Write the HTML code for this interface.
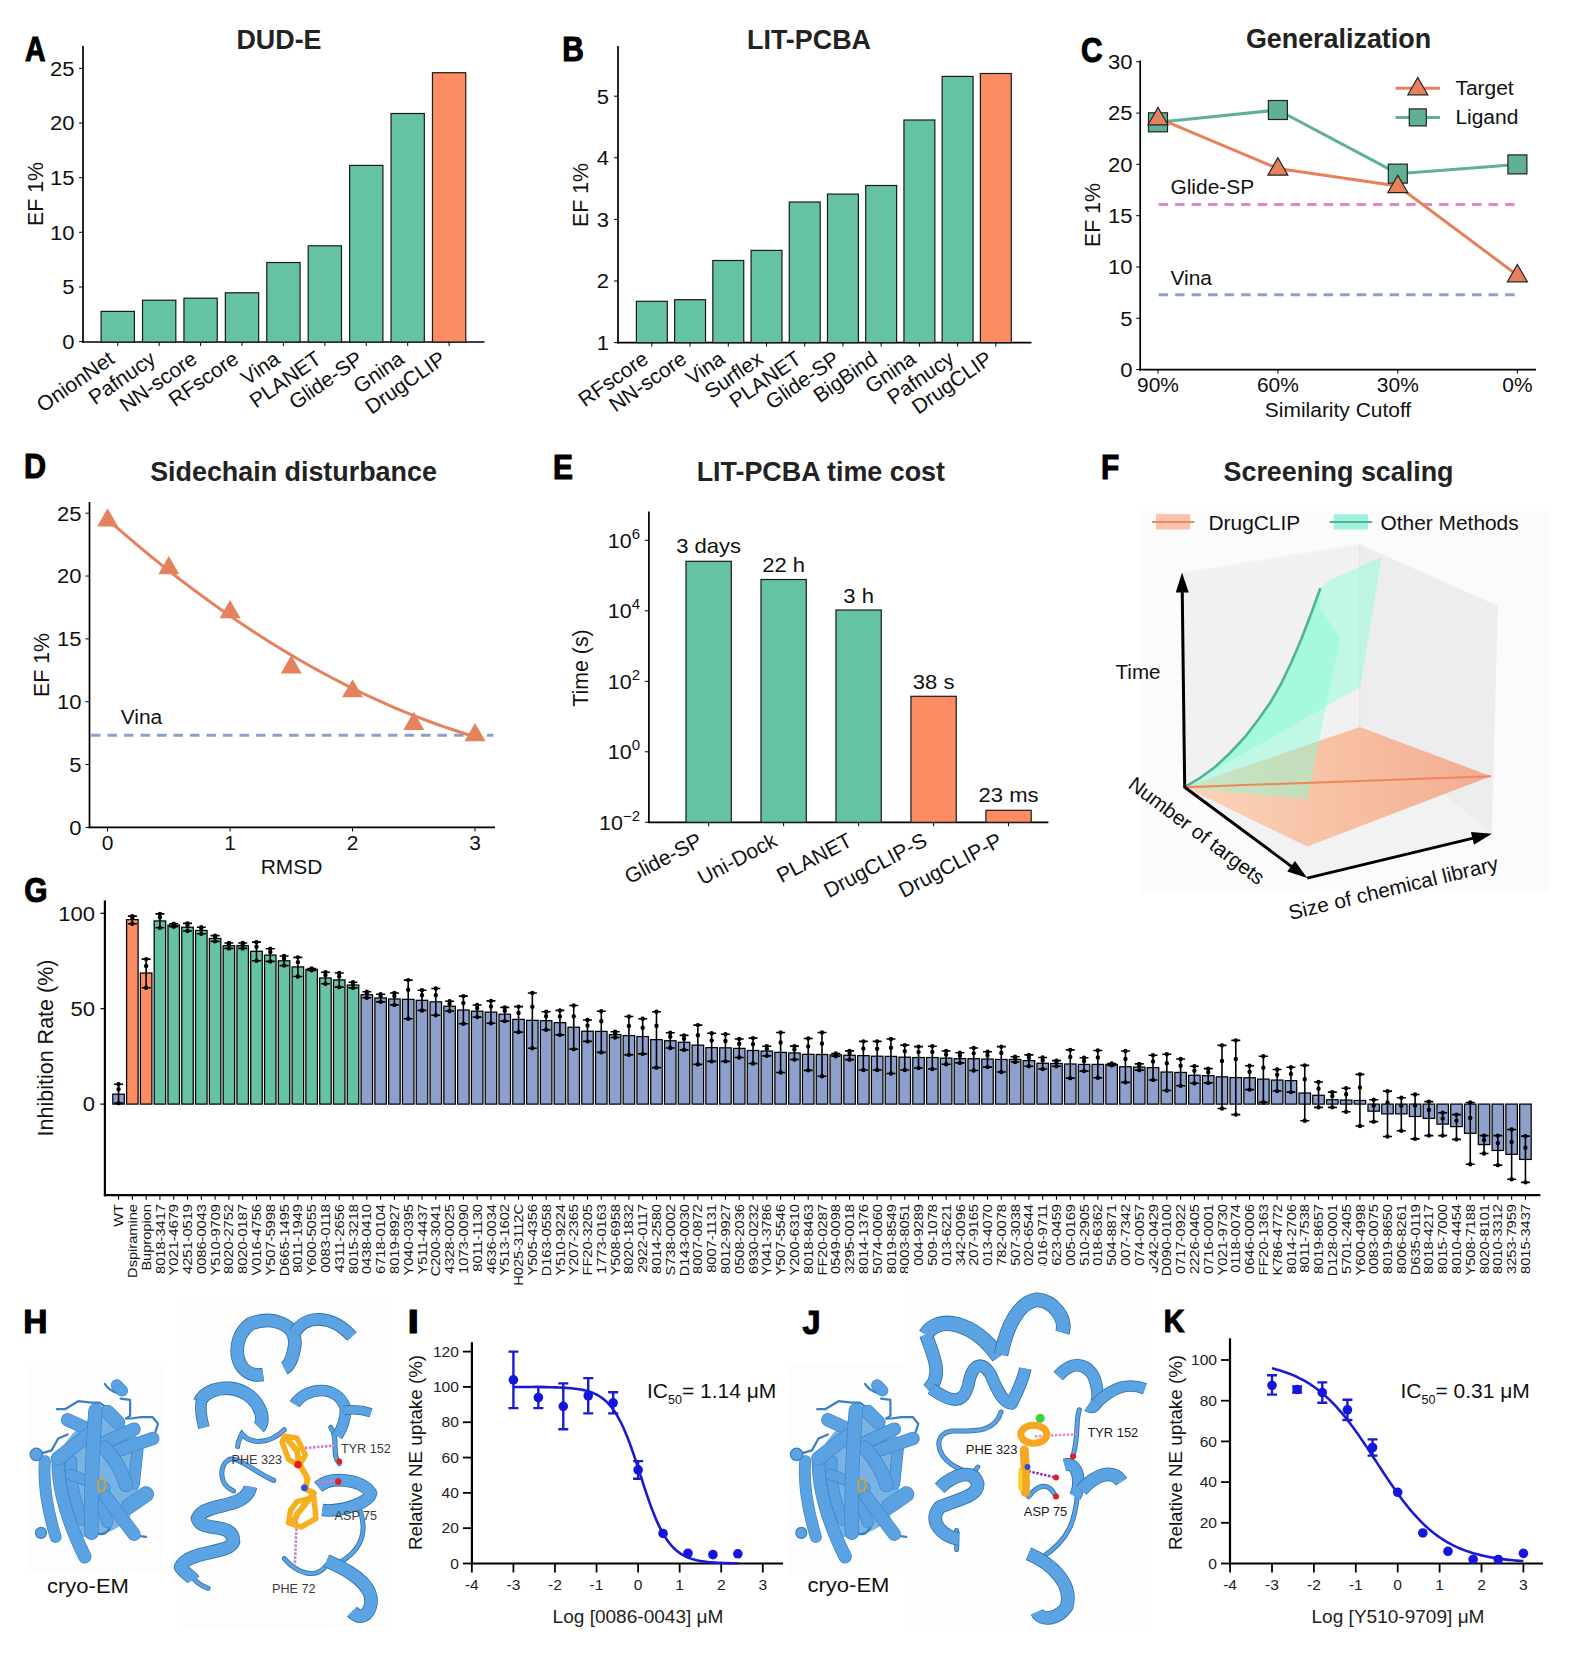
<!DOCTYPE html>
<html><head><meta charset="utf-8"><style>
html,body{margin:0;padding:0;background:#fff;}
svg{display:block;font-family:"Liberation Sans",sans-serif;}
</style></head><body>
<svg width="1572" height="1654" viewBox="0 0 1572 1654">
<rect width="1572" height="1654" fill="#fff"/>
<text transform="translate(25,61.19) scale(0.8,1)" x="0" y="0" font-size="35.6" font-weight="bold" fill="#000" stroke="#000" stroke-width="1.1" stroke-linejoin="miter">A</text>
<text transform="translate(279,49) scale(0.96,1)" x="0" y="0" font-size="28" text-anchor="middle" font-weight="bold" fill="#222">DUD-E</text>
<line x1="83" y1="46" x2="83" y2="342.8" stroke="#000" stroke-width="1.7" />
<line x1="82.2" y1="342" x2="484.5" y2="342" stroke="#000" stroke-width="1.7" />
<line x1="79" y1="341.6" x2="83" y2="341.6" stroke="#000" stroke-width="1" />
<text transform="translate(74.5,348.9) scale(1.075,1)" x="0" y="0" font-size="20.5" text-anchor="end" font-weight="normal" fill="#111" >0</text>
<line x1="79" y1="286.95" x2="83" y2="286.95" stroke="#000" stroke-width="1" />
<text transform="translate(74.5,294.25) scale(1.075,1)" x="0" y="0" font-size="20.5" text-anchor="end" font-weight="normal" fill="#111" >5</text>
<line x1="79" y1="232.3" x2="83" y2="232.3" stroke="#000" stroke-width="1" />
<text transform="translate(74.5,239.6) scale(1.075,1)" x="0" y="0" font-size="20.5" text-anchor="end" font-weight="normal" fill="#111" >10</text>
<line x1="79" y1="177.65" x2="83" y2="177.65" stroke="#000" stroke-width="1" />
<text transform="translate(74.5,184.95) scale(1.075,1)" x="0" y="0" font-size="20.5" text-anchor="end" font-weight="normal" fill="#111" >15</text>
<line x1="79" y1="123" x2="83" y2="123" stroke="#000" stroke-width="1" />
<text transform="translate(74.5,130.3) scale(1.075,1)" x="0" y="0" font-size="20.5" text-anchor="end" font-weight="normal" fill="#111" >20</text>
<line x1="79" y1="68.35" x2="83" y2="68.35" stroke="#000" stroke-width="1" />
<text transform="translate(74.5,75.65) scale(1.075,1)" x="0" y="0" font-size="20.5" text-anchor="end" font-weight="normal" fill="#111" >25</text>
<text transform="translate(35.5,194) rotate(-90)" x="0" y="0" font-size="21.3" text-anchor="middle" dominant-baseline="central" fill="#111">EF 1%</text>
<rect x="101.1" y="311.4" width="33.3" height="30.6" fill="#66c2a5" stroke="#1a1a1a" stroke-width="1.2"/>
<line x1="117.75" y1="342" x2="117.75" y2="346" stroke="#000" stroke-width="1" />
<text transform="translate(115.75,362) rotate(-35)" x="0" y="0" font-size="21" text-anchor="end" fill="#111">OnionNet</text>
<rect x="142.52" y="300.2" width="33.3" height="41.8" fill="#66c2a5" stroke="#1a1a1a" stroke-width="1.2"/>
<line x1="159.17" y1="342" x2="159.17" y2="346" stroke="#000" stroke-width="1" />
<text transform="translate(157.17,362) rotate(-35)" x="0" y="0" font-size="21" text-anchor="end" fill="#111">Pafnucy</text>
<rect x="183.94" y="298.2" width="33.3" height="43.8" fill="#66c2a5" stroke="#1a1a1a" stroke-width="1.2"/>
<line x1="200.59" y1="342" x2="200.59" y2="346" stroke="#000" stroke-width="1" />
<text transform="translate(198.59,362) rotate(-35)" x="0" y="0" font-size="21" text-anchor="end" fill="#111">NN-score</text>
<rect x="225.36" y="292.8" width="33.3" height="49.2" fill="#66c2a5" stroke="#1a1a1a" stroke-width="1.2"/>
<line x1="242.01" y1="342" x2="242.01" y2="346" stroke="#000" stroke-width="1" />
<text transform="translate(240.01,362) rotate(-35)" x="0" y="0" font-size="21" text-anchor="end" fill="#111">RFscore</text>
<rect x="266.78" y="262.5" width="33.3" height="79.5" fill="#66c2a5" stroke="#1a1a1a" stroke-width="1.2"/>
<line x1="283.43" y1="342" x2="283.43" y2="346" stroke="#000" stroke-width="1" />
<text transform="translate(281.43,362) rotate(-35)" x="0" y="0" font-size="21" text-anchor="end" fill="#111">Vina</text>
<rect x="308.2" y="245.8" width="33.3" height="96.2" fill="#66c2a5" stroke="#1a1a1a" stroke-width="1.2"/>
<line x1="324.85" y1="342" x2="324.85" y2="346" stroke="#000" stroke-width="1" />
<text transform="translate(322.85,362) rotate(-35)" x="0" y="0" font-size="21" text-anchor="end" fill="#111">PLANET</text>
<rect x="349.62" y="165.4" width="33.3" height="176.6" fill="#66c2a5" stroke="#1a1a1a" stroke-width="1.2"/>
<line x1="366.27" y1="342" x2="366.27" y2="346" stroke="#000" stroke-width="1" />
<text transform="translate(364.27,362) rotate(-35)" x="0" y="0" font-size="21" text-anchor="end" fill="#111">Glide-SP</text>
<rect x="391.04" y="113.5" width="33.3" height="228.5" fill="#66c2a5" stroke="#1a1a1a" stroke-width="1.2"/>
<line x1="407.69" y1="342" x2="407.69" y2="346" stroke="#000" stroke-width="1" />
<text transform="translate(405.69,362) rotate(-35)" x="0" y="0" font-size="21" text-anchor="end" fill="#111">Gnina</text>
<rect x="432.46" y="72.7" width="33.3" height="269.3" fill="#fc8d62" stroke="#1a1a1a" stroke-width="1.2"/>
<line x1="449.11" y1="342" x2="449.11" y2="346" stroke="#000" stroke-width="1" />
<text transform="translate(447.11,362) rotate(-35)" x="0" y="0" font-size="21" text-anchor="end" fill="#111">DrugCLIP</text>
<text transform="translate(562.3,60.79) scale(0.84,1)" x="0" y="0" font-size="35.6" font-weight="bold" fill="#000" stroke="#000" stroke-width="1.1" stroke-linejoin="miter">B</text>
<text transform="translate(809,49.3) scale(0.96,1)" x="0" y="0" font-size="28" text-anchor="middle" font-weight="bold" fill="#222">LIT-PCBA</text>
<line x1="618" y1="46" x2="618" y2="343.4" stroke="#000" stroke-width="1.7" />
<line x1="617.2" y1="342.6" x2="1031.4" y2="342.6" stroke="#000" stroke-width="1.7" />
<line x1="614" y1="342.6" x2="618" y2="342.6" stroke="#000" stroke-width="1" />
<text transform="translate(609,349.9) scale(1.075,1)" x="0" y="0" font-size="20.5" text-anchor="end" font-weight="normal" fill="#111" >1</text>
<line x1="614" y1="281" x2="618" y2="281" stroke="#000" stroke-width="1" />
<text transform="translate(609,288.3) scale(1.075,1)" x="0" y="0" font-size="20.5" text-anchor="end" font-weight="normal" fill="#111" >2</text>
<line x1="614" y1="219.4" x2="618" y2="219.4" stroke="#000" stroke-width="1" />
<text transform="translate(609,226.7) scale(1.075,1)" x="0" y="0" font-size="20.5" text-anchor="end" font-weight="normal" fill="#111" >3</text>
<line x1="614" y1="157.8" x2="618" y2="157.8" stroke="#000" stroke-width="1" />
<text transform="translate(609,165.1) scale(1.075,1)" x="0" y="0" font-size="20.5" text-anchor="end" font-weight="normal" fill="#111" >4</text>
<line x1="614" y1="96.2" x2="618" y2="96.2" stroke="#000" stroke-width="1" />
<text transform="translate(609,103.5) scale(1.075,1)" x="0" y="0" font-size="20.5" text-anchor="end" font-weight="normal" fill="#111" >5</text>
<text transform="translate(581,195) rotate(-90)" x="0" y="0" font-size="21.3" text-anchor="middle" dominant-baseline="central" fill="#111">EF 1%</text>
<rect x="636.4" y="301.3" width="30.9" height="41.3" fill="#66c2a5" stroke="#1a1a1a" stroke-width="1.2"/>
<line x1="651.85" y1="342.6" x2="651.85" y2="346.6" stroke="#000" stroke-width="1" />
<text transform="translate(649.85,362) rotate(-35)" x="0" y="0" font-size="21" text-anchor="end" fill="#111">RFscore</text>
<rect x="674.62" y="299.7" width="30.9" height="42.9" fill="#66c2a5" stroke="#1a1a1a" stroke-width="1.2"/>
<line x1="690.07" y1="342.6" x2="690.07" y2="346.6" stroke="#000" stroke-width="1" />
<text transform="translate(688.07,362) rotate(-35)" x="0" y="0" font-size="21" text-anchor="end" fill="#111">NN-score</text>
<rect x="712.84" y="260.5" width="30.9" height="82.1" fill="#66c2a5" stroke="#1a1a1a" stroke-width="1.2"/>
<line x1="728.29" y1="342.6" x2="728.29" y2="346.6" stroke="#000" stroke-width="1" />
<text transform="translate(726.29,362) rotate(-35)" x="0" y="0" font-size="21" text-anchor="end" fill="#111">Vina</text>
<rect x="751.06" y="250.4" width="30.9" height="92.2" fill="#66c2a5" stroke="#1a1a1a" stroke-width="1.2"/>
<line x1="766.51" y1="342.6" x2="766.51" y2="346.6" stroke="#000" stroke-width="1" />
<text transform="translate(764.51,362) rotate(-35)" x="0" y="0" font-size="21" text-anchor="end" fill="#111">Surflex</text>
<rect x="789.28" y="202" width="30.9" height="140.6" fill="#66c2a5" stroke="#1a1a1a" stroke-width="1.2"/>
<line x1="804.73" y1="342.6" x2="804.73" y2="346.6" stroke="#000" stroke-width="1" />
<text transform="translate(802.73,362) rotate(-35)" x="0" y="0" font-size="21" text-anchor="end" fill="#111">PLANET</text>
<rect x="827.5" y="194.1" width="30.9" height="148.5" fill="#66c2a5" stroke="#1a1a1a" stroke-width="1.2"/>
<line x1="842.95" y1="342.6" x2="842.95" y2="346.6" stroke="#000" stroke-width="1" />
<text transform="translate(840.95,362) rotate(-35)" x="0" y="0" font-size="21" text-anchor="end" fill="#111">Glide-SP</text>
<rect x="865.72" y="185.5" width="30.9" height="157.1" fill="#66c2a5" stroke="#1a1a1a" stroke-width="1.2"/>
<line x1="881.17" y1="342.6" x2="881.17" y2="346.6" stroke="#000" stroke-width="1" />
<text transform="translate(879.17,362) rotate(-35)" x="0" y="0" font-size="21" text-anchor="end" fill="#111">BigBind</text>
<rect x="903.94" y="120" width="30.9" height="222.6" fill="#66c2a5" stroke="#1a1a1a" stroke-width="1.2"/>
<line x1="919.39" y1="342.6" x2="919.39" y2="346.6" stroke="#000" stroke-width="1" />
<text transform="translate(917.39,362) rotate(-35)" x="0" y="0" font-size="21" text-anchor="end" fill="#111">Gnina</text>
<rect x="942.16" y="76.4" width="30.9" height="266.2" fill="#66c2a5" stroke="#1a1a1a" stroke-width="1.2"/>
<line x1="957.61" y1="342.6" x2="957.61" y2="346.6" stroke="#000" stroke-width="1" />
<text transform="translate(955.61,362) rotate(-35)" x="0" y="0" font-size="21" text-anchor="end" fill="#111">Pafnucy</text>
<rect x="980.38" y="73.5" width="30.9" height="269.1" fill="#fc8d62" stroke="#1a1a1a" stroke-width="1.2"/>
<line x1="995.83" y1="342.6" x2="995.83" y2="346.6" stroke="#000" stroke-width="1" />
<text transform="translate(993.83,362) rotate(-35)" x="0" y="0" font-size="21" text-anchor="end" fill="#111">DrugCLIP</text>
<text transform="translate(1081,61.59) scale(0.84,1)" x="0" y="0" font-size="35.6" font-weight="bold" fill="#000" stroke="#000" stroke-width="1.1" stroke-linejoin="miter">C</text>
<text transform="translate(1338.5,48.4) scale(0.96,1)" x="0" y="0" font-size="28" text-anchor="middle" font-weight="bold" fill="#222">Generalization</text>
<line x1="1140.2" y1="60.5" x2="1140.2" y2="370.4" stroke="#000" stroke-width="1.7" />
<line x1="1139.4" y1="369.6" x2="1536" y2="369.6" stroke="#000" stroke-width="1.7" />
<line x1="1136.2" y1="369.6" x2="1140.2" y2="369.6" stroke="#000" stroke-width="1" />
<text transform="translate(1132.5,376.9) scale(1.075,1)" x="0" y="0" font-size="20.5" text-anchor="end" font-weight="normal" fill="#111" >0</text>
<line x1="1136.2" y1="318.3" x2="1140.2" y2="318.3" stroke="#000" stroke-width="1" />
<text transform="translate(1132.5,325.6) scale(1.075,1)" x="0" y="0" font-size="20.5" text-anchor="end" font-weight="normal" fill="#111" >5</text>
<line x1="1136.2" y1="267" x2="1140.2" y2="267" stroke="#000" stroke-width="1" />
<text transform="translate(1132.5,274.3) scale(1.075,1)" x="0" y="0" font-size="20.5" text-anchor="end" font-weight="normal" fill="#111" >10</text>
<line x1="1136.2" y1="215.7" x2="1140.2" y2="215.7" stroke="#000" stroke-width="1" />
<text transform="translate(1132.5,223) scale(1.075,1)" x="0" y="0" font-size="20.5" text-anchor="end" font-weight="normal" fill="#111" >15</text>
<line x1="1136.2" y1="164.4" x2="1140.2" y2="164.4" stroke="#000" stroke-width="1" />
<text transform="translate(1132.5,171.7) scale(1.075,1)" x="0" y="0" font-size="20.5" text-anchor="end" font-weight="normal" fill="#111" >20</text>
<line x1="1136.2" y1="113.1" x2="1140.2" y2="113.1" stroke="#000" stroke-width="1" />
<text transform="translate(1132.5,120.4) scale(1.075,1)" x="0" y="0" font-size="20.5" text-anchor="end" font-weight="normal" fill="#111" >25</text>
<line x1="1136.2" y1="61.8" x2="1140.2" y2="61.8" stroke="#000" stroke-width="1" />
<text transform="translate(1132.5,69.1) scale(1.075,1)" x="0" y="0" font-size="20.5" text-anchor="end" font-weight="normal" fill="#111" >30</text>
<text transform="translate(1093.4,215) rotate(-90)" x="0" y="0" font-size="21.3" text-anchor="middle" dominant-baseline="central" fill="#111">EF 1%</text>
<line x1="1158" y1="369.6" x2="1158" y2="373.6" stroke="#000" stroke-width="1" />
<text transform="translate(1158,392) scale(1.075,1)" x="0" y="0" font-size="19.5" text-anchor="middle" font-weight="normal" fill="#111" >90%</text>
<line x1="1277.9" y1="369.6" x2="1277.9" y2="373.6" stroke="#000" stroke-width="1" />
<text transform="translate(1277.9,392) scale(1.075,1)" x="0" y="0" font-size="19.5" text-anchor="middle" font-weight="normal" fill="#111" >60%</text>
<line x1="1397.8" y1="369.6" x2="1397.8" y2="373.6" stroke="#000" stroke-width="1" />
<text transform="translate(1397.8,392) scale(1.075,1)" x="0" y="0" font-size="19.5" text-anchor="middle" font-weight="normal" fill="#111" >30%</text>
<line x1="1517.4" y1="369.6" x2="1517.4" y2="373.6" stroke="#000" stroke-width="1" />
<text transform="translate(1517.4,392) scale(1.075,1)" x="0" y="0" font-size="19.5" text-anchor="middle" font-weight="normal" fill="#111" >0%</text>
<text transform="translate(1338,416.5) scale(1.075,1)" x="0" y="0" font-size="19.5" text-anchor="middle" font-weight="normal" fill="#111" >Similarity Cutoff</text>
<line x1="1158.6" y1="204.41" x2="1517" y2="204.41" stroke="#da8cc2" stroke-width="3" stroke-dasharray="9.5,7"/>
<line x1="1158.6" y1="294.7" x2="1517" y2="294.7" stroke="#8da0cb" stroke-width="3" stroke-dasharray="9.5,7"/>
<text transform="translate(1170.4,194) scale(1.075,1)" x="0" y="0" font-size="19.5" text-anchor="start" font-weight="normal" fill="#111" >Glide-SP</text>
<text transform="translate(1170.4,285.4) scale(1.075,1)" x="0" y="0" font-size="19.5" text-anchor="start" font-weight="normal" fill="#111" >Vina</text>
<polyline points="1158,122.33 1277.9,110.02 1397.8,173.63 1517.4,164.4" fill="none" stroke="#5fb096" stroke-width="3"/>
<polyline points="1158,118.23 1277.9,168.5 1397.8,185.95 1517.4,275.21" fill="none" stroke="#e5825d" stroke-width="3"/>
<rect x="1148.5" y="112.83" width="19" height="19" fill="#5fb096" stroke="#222" stroke-width="1.2"/>
<rect x="1268.4" y="100.52" width="19" height="19" fill="#5fb096" stroke="#222" stroke-width="1.2"/>
<rect x="1388.3" y="164.13" width="19" height="19" fill="#5fb096" stroke="#222" stroke-width="1.2"/>
<rect x="1507.9" y="154.9" width="19" height="19" fill="#5fb096" stroke="#222" stroke-width="1.2"/>
<polygon points="1158,107.49 1168,124.81 1148,124.81" fill="#e5825d" stroke="#222" stroke-width="1.2" stroke-linejoin="miter"/>
<polygon points="1277.9,157.77 1287.9,175.09 1267.9,175.09" fill="#e5825d" stroke="#222" stroke-width="1.2" stroke-linejoin="miter"/>
<polygon points="1397.8,175.21 1407.8,192.53 1387.8,192.53" fill="#e5825d" stroke="#222" stroke-width="1.2" stroke-linejoin="miter"/>
<polygon points="1517.4,264.47 1527.4,281.79 1507.4,281.79" fill="#e5825d" stroke="#222" stroke-width="1.2" stroke-linejoin="miter"/>
<line x1="1395.6" y1="88.2" x2="1440" y2="88.2" stroke="#e5825d" stroke-width="3" />
<polygon points="1417.8,77.46 1427.8,94.78 1407.8,94.78" fill="#e5825d" stroke="#222" stroke-width="1.2" stroke-linejoin="miter"/>
<line x1="1395.6" y1="117.4" x2="1440" y2="117.4" stroke="#5fb096" stroke-width="3" />
<rect x="1409.3" y="108.9" width="17" height="17" fill="#5fb096" stroke="#222" stroke-width="1.2"/>
<text transform="translate(1455.4,95.2) scale(1.075,1)" x="0" y="0" font-size="19.5" text-anchor="start" font-weight="normal" fill="#111" >Target</text>
<text transform="translate(1455.4,124.4) scale(1.075,1)" x="0" y="0" font-size="19.5" text-anchor="start" font-weight="normal" fill="#111" >Ligand</text>
<text transform="translate(24,477.99) scale(0.86,1)" x="0" y="0" font-size="35.6" font-weight="bold" fill="#000" stroke="#000" stroke-width="1.1" stroke-linejoin="miter">D</text>
<text transform="translate(293.5,480.7) scale(0.96,1)" x="0" y="0" font-size="28" text-anchor="middle" font-weight="bold" fill="#222">Sidechain disturbance</text>
<line x1="89.5" y1="502" x2="89.5" y2="828.2" stroke="#000" stroke-width="1.7" />
<line x1="88.7" y1="827.4" x2="495" y2="827.4" stroke="#000" stroke-width="1.7" />
<line x1="85.5" y1="827.4" x2="89.5" y2="827.4" stroke="#000" stroke-width="1" />
<text transform="translate(81.5,834.7) scale(1.075,1)" x="0" y="0" font-size="20.5" text-anchor="end" font-weight="normal" fill="#111" >0</text>
<line x1="85.5" y1="764.56" x2="89.5" y2="764.56" stroke="#000" stroke-width="1" />
<text transform="translate(81.5,771.86) scale(1.075,1)" x="0" y="0" font-size="20.5" text-anchor="end" font-weight="normal" fill="#111" >5</text>
<line x1="85.5" y1="701.72" x2="89.5" y2="701.72" stroke="#000" stroke-width="1" />
<text transform="translate(81.5,709.02) scale(1.075,1)" x="0" y="0" font-size="20.5" text-anchor="end" font-weight="normal" fill="#111" >10</text>
<line x1="85.5" y1="638.88" x2="89.5" y2="638.88" stroke="#000" stroke-width="1" />
<text transform="translate(81.5,646.18) scale(1.075,1)" x="0" y="0" font-size="20.5" text-anchor="end" font-weight="normal" fill="#111" >15</text>
<line x1="85.5" y1="576.04" x2="89.5" y2="576.04" stroke="#000" stroke-width="1" />
<text transform="translate(81.5,583.34) scale(1.075,1)" x="0" y="0" font-size="20.5" text-anchor="end" font-weight="normal" fill="#111" >20</text>
<line x1="85.5" y1="513.2" x2="89.5" y2="513.2" stroke="#000" stroke-width="1" />
<text transform="translate(81.5,520.5) scale(1.075,1)" x="0" y="0" font-size="20.5" text-anchor="end" font-weight="normal" fill="#111" >25</text>
<line x1="107.6" y1="827.4" x2="107.6" y2="831.4" stroke="#000" stroke-width="1" />
<text transform="translate(107.6,850.3) scale(1.075,1)" x="0" y="0" font-size="19.5" text-anchor="middle" font-weight="normal" fill="#111" >0</text>
<line x1="230.07" y1="827.4" x2="230.07" y2="831.4" stroke="#000" stroke-width="1" />
<text transform="translate(230.07,850.3) scale(1.075,1)" x="0" y="0" font-size="19.5" text-anchor="middle" font-weight="normal" fill="#111" >1</text>
<line x1="352.54" y1="827.4" x2="352.54" y2="831.4" stroke="#000" stroke-width="1" />
<text transform="translate(352.54,850.3) scale(1.075,1)" x="0" y="0" font-size="19.5" text-anchor="middle" font-weight="normal" fill="#111" >2</text>
<line x1="475.01" y1="827.4" x2="475.01" y2="831.4" stroke="#000" stroke-width="1" />
<text transform="translate(475.01,850.3) scale(1.075,1)" x="0" y="0" font-size="19.5" text-anchor="middle" font-weight="normal" fill="#111" >3</text>
<text transform="translate(291.5,874.2) scale(1.075,1)" x="0" y="0" font-size="19.5" text-anchor="middle" font-weight="normal" fill="#111" >RMSD</text>
<text transform="translate(41.8,665) rotate(-90)" x="0" y="0" font-size="21.3" text-anchor="middle" dominant-baseline="central" fill="#111">EF 1%</text>
<line x1="91" y1="735.28" x2="493.5" y2="735.28" stroke="#8da0cb" stroke-width="3" stroke-dasharray="9.5,7"/>
<text transform="translate(120.7,724) scale(1.075,1)" x="0" y="0" font-size="19.5" text-anchor="start" font-weight="normal" fill="#111" >Vina</text>
<polyline points="107.6,519.48 113.72,524.88 119.85,530.21 125.97,535.48 132.09,540.7 138.22,545.85 144.34,550.94 150.46,555.97 156.59,560.95 162.71,565.86 168.83,570.71 174.96,575.5 181.08,580.24 187.21,584.91 193.33,589.52 199.45,594.07 205.58,598.56 211.7,603 217.82,607.37 223.95,611.68 230.07,615.93 236.19,620.12 242.32,624.25 248.44,628.33 254.56,632.34 260.69,636.29 266.81,640.18 272.93,644.01 279.06,647.78 285.18,651.49 291.3,655.14 297.43,658.73 303.55,662.26 309.68,665.74 315.8,669.15 321.92,672.5 328.05,675.79 334.17,679.02 340.29,682.19 346.42,685.3 352.54,688.35 358.66,691.34 364.79,694.27 370.91,697.14 377.03,699.95 383.16,702.7 389.28,705.39 395.4,708.02 401.53,710.59 407.65,713.1 413.77,715.54 419.9,717.93 426.02,720.26 432.15,722.53 438.27,724.74 444.39,726.89 450.52,728.98 456.64,731.01 462.76,732.98 468.89,734.89 475.01,736.73" fill="none" stroke="#e5825d" stroke-width="3"/>
<polygon points="107.6,508.21 118.1,526.39 97.1,526.39" fill="#e5825d" stroke="none" stroke-width="0" stroke-linejoin="miter"/>
<polygon points="168.83,555.97 179.33,574.15 158.33,574.15" fill="#e5825d" stroke="none" stroke-width="0" stroke-linejoin="miter"/>
<polygon points="230.07,599.96 240.57,618.14 219.57,618.14" fill="#e5825d" stroke="none" stroke-width="0" stroke-linejoin="miter"/>
<polygon points="291.3,655.25 301.8,673.44 280.8,673.44" fill="#e5825d" stroke="none" stroke-width="0" stroke-linejoin="miter"/>
<polygon points="352.54,679.13 363.04,697.32 342.04,697.32" fill="#e5825d" stroke="none" stroke-width="0" stroke-linejoin="miter"/>
<polygon points="413.77,711.81 424.27,730 403.27,730" fill="#e5825d" stroke="none" stroke-width="0" stroke-linejoin="miter"/>
<polygon points="475.01,723.12 485.51,741.31 464.51,741.31" fill="#e5825d" stroke="none" stroke-width="0" stroke-linejoin="miter"/>
<text transform="translate(552.9,479.39) scale(0.84,1)" x="0" y="0" font-size="35.6" font-weight="bold" fill="#000" stroke="#000" stroke-width="1.1" stroke-linejoin="miter">E</text>
<text transform="translate(820.8,480.5) scale(0.96,1)" x="0" y="0" font-size="28" text-anchor="middle" font-weight="bold" fill="#222">LIT-PCBA time cost</text>
<line x1="648.9" y1="511.5" x2="648.9" y2="823.1" stroke="#000" stroke-width="1.7" />
<line x1="648.1" y1="822.3" x2="1048.4" y2="822.3" stroke="#000" stroke-width="1.7" />
<line x1="644.9" y1="822.3" x2="648.9" y2="822.3" stroke="#000" stroke-width="1" />
<text transform="translate(640,829.6) scale(1.075,1)" x="0" y="0" font-size="20" text-anchor="end" fill="#111">10<tspan dy="-9" font-size="14">−2</tspan></text>
<line x1="644.9" y1="751.8" x2="648.9" y2="751.8" stroke="#000" stroke-width="1" />
<text transform="translate(640,759.1) scale(1.075,1)" x="0" y="0" font-size="20" text-anchor="end" fill="#111">10<tspan dy="-9" font-size="14">0</tspan></text>
<line x1="644.9" y1="681.3" x2="648.9" y2="681.3" stroke="#000" stroke-width="1" />
<text transform="translate(640,688.6) scale(1.075,1)" x="0" y="0" font-size="20" text-anchor="end" fill="#111">10<tspan dy="-9" font-size="14">2</tspan></text>
<line x1="644.9" y1="610.8" x2="648.9" y2="610.8" stroke="#000" stroke-width="1" />
<text transform="translate(640,618.1) scale(1.075,1)" x="0" y="0" font-size="20" text-anchor="end" fill="#111">10<tspan dy="-9" font-size="14">4</tspan></text>
<line x1="644.9" y1="540.3" x2="648.9" y2="540.3" stroke="#000" stroke-width="1" />
<text transform="translate(640,547.6) scale(1.075,1)" x="0" y="0" font-size="20" text-anchor="end" fill="#111">10<tspan dy="-9" font-size="14">6</tspan></text>
<text transform="translate(581.2,668) rotate(-90)" x="0" y="0" font-size="21.3" text-anchor="middle" dominant-baseline="central" fill="#111">Time (s)</text>
<rect x="686" y="561.3" width="45.3" height="261" fill="#66c2a5" stroke="#1a1a1a" stroke-width="1.2"/>
<line x1="708.65" y1="822.3" x2="708.65" y2="826.3" stroke="#000" stroke-width="1" />
<text transform="translate(708.65,553.4) scale(1.075,1)" x="0" y="0" font-size="20.5" text-anchor="middle" font-weight="normal" fill="#111" >3 days</text>
<text transform="translate(703.65,845) rotate(-28)" x="0" y="0" font-size="21" text-anchor="end" fill="#111">Glide-SP</text>
<rect x="760.98" y="579.5" width="45.3" height="242.8" fill="#66c2a5" stroke="#1a1a1a" stroke-width="1.2"/>
<line x1="783.63" y1="822.3" x2="783.63" y2="826.3" stroke="#000" stroke-width="1" />
<text transform="translate(783.63,572.3) scale(1.075,1)" x="0" y="0" font-size="20.5" text-anchor="middle" font-weight="normal" fill="#111" >22 h</text>
<text transform="translate(778.63,845) rotate(-28)" x="0" y="0" font-size="21" text-anchor="end" fill="#111">Uni-Dock</text>
<rect x="835.96" y="610" width="45.3" height="212.3" fill="#66c2a5" stroke="#1a1a1a" stroke-width="1.2"/>
<line x1="858.61" y1="822.3" x2="858.61" y2="826.3" stroke="#000" stroke-width="1" />
<text transform="translate(858.61,602.5) scale(1.075,1)" x="0" y="0" font-size="20.5" text-anchor="middle" font-weight="normal" fill="#111" >3 h</text>
<text transform="translate(853.61,845) rotate(-28)" x="0" y="0" font-size="21" text-anchor="end" fill="#111">PLANET</text>
<rect x="910.94" y="696.3" width="45.3" height="126" fill="#fc8d62" stroke="#1a1a1a" stroke-width="1.2"/>
<line x1="933.59" y1="822.3" x2="933.59" y2="826.3" stroke="#000" stroke-width="1" />
<text transform="translate(933.59,689) scale(1.075,1)" x="0" y="0" font-size="20.5" text-anchor="middle" font-weight="normal" fill="#111" >38 s</text>
<text transform="translate(928.59,845) rotate(-28)" x="0" y="0" font-size="21" text-anchor="end" fill="#111">DrugCLIP-S</text>
<rect x="985.92" y="810.3" width="45.3" height="12" fill="#fc8d62" stroke="#1a1a1a" stroke-width="1.2"/>
<line x1="1008.57" y1="822.3" x2="1008.57" y2="826.3" stroke="#000" stroke-width="1" />
<text transform="translate(1008.57,802.4) scale(1.075,1)" x="0" y="0" font-size="20.5" text-anchor="middle" font-weight="normal" fill="#111" >23 ms</text>
<text transform="translate(1003.57,845) rotate(-28)" x="0" y="0" font-size="21" text-anchor="end" fill="#111">DrugCLIP-P</text>
<text transform="translate(24.3,902.09) scale(0.84,1)" x="0" y="0" font-size="35.6" font-weight="bold" fill="#000" stroke="#000" stroke-width="1.1" stroke-linejoin="miter">G</text>
<line x1="104.9" y1="900.5" x2="104.9" y2="1196.2" stroke="#000" stroke-width="2.2" />
<line x1="103.9" y1="1195.2" x2="1540.4" y2="1195.2" stroke="#000" stroke-width="2.2" />
<line x1="100.4" y1="1104.1" x2="104.9" y2="1104.1" stroke="#000" stroke-width="1.2" />
<text transform="translate(95,1111.3) scale(1.075,1)" x="0" y="0" font-size="20.5" text-anchor="end" font-weight="normal" fill="#111" >0</text>
<line x1="100.4" y1="1008.7" x2="104.9" y2="1008.7" stroke="#000" stroke-width="1.2" />
<text transform="translate(95,1015.9) scale(1.075,1)" x="0" y="0" font-size="20.5" text-anchor="end" font-weight="normal" fill="#111" >50</text>
<line x1="100.4" y1="913.3" x2="104.9" y2="913.3" stroke="#000" stroke-width="1.2" />
<text transform="translate(95,920.5) scale(1.075,1)" x="0" y="0" font-size="20.5" text-anchor="end" font-weight="normal" fill="#111" >100</text>
<text transform="translate(45.6,1048) rotate(-90)" x="0" y="0" font-size="21.5" text-anchor="middle" dominant-baseline="central" fill="#111">Inhibition Rate (%)</text>
<rect x="112.8" y="1094.18" width="11.5" height="9.92" fill="#8da0cb" stroke="#000" stroke-width="1.25"/>
<rect x="126.59" y="919.6" width="11.5" height="184.5" fill="#fc8d62" stroke="#000" stroke-width="1.25"/>
<rect x="140.39" y="973.02" width="11.5" height="131.08" fill="#fc8d62" stroke="#000" stroke-width="1.25"/>
<rect x="154.18" y="920.93" width="11.5" height="183.17" fill="#66c2a5" stroke="#000" stroke-width="1.25"/>
<rect x="167.97" y="925.13" width="11.5" height="178.97" fill="#66c2a5" stroke="#000" stroke-width="1.25"/>
<rect x="181.76" y="927.23" width="11.5" height="176.87" fill="#66c2a5" stroke="#000" stroke-width="1.25"/>
<rect x="195.56" y="930.47" width="11.5" height="173.63" fill="#66c2a5" stroke="#000" stroke-width="1.25"/>
<rect x="209.35" y="938.49" width="11.5" height="165.61" fill="#66c2a5" stroke="#000" stroke-width="1.25"/>
<rect x="223.14" y="945.74" width="11.5" height="158.36" fill="#66c2a5" stroke="#000" stroke-width="1.25"/>
<rect x="236.94" y="945.74" width="11.5" height="158.36" fill="#66c2a5" stroke="#000" stroke-width="1.25"/>
<rect x="250.73" y="951.27" width="11.5" height="152.83" fill="#66c2a5" stroke="#000" stroke-width="1.25"/>
<rect x="264.52" y="955.09" width="11.5" height="149.01" fill="#66c2a5" stroke="#000" stroke-width="1.25"/>
<rect x="278.32" y="960.81" width="11.5" height="143.29" fill="#66c2a5" stroke="#000" stroke-width="1.25"/>
<rect x="292.11" y="966.91" width="11.5" height="137.19" fill="#66c2a5" stroke="#000" stroke-width="1.25"/>
<rect x="305.9" y="969.4" width="11.5" height="134.7" fill="#66c2a5" stroke="#000" stroke-width="1.25"/>
<rect x="319.69" y="977.98" width="11.5" height="126.12" fill="#66c2a5" stroke="#000" stroke-width="1.25"/>
<rect x="333.49" y="979.89" width="11.5" height="124.21" fill="#66c2a5" stroke="#000" stroke-width="1.25"/>
<rect x="347.28" y="985.04" width="11.5" height="119.06" fill="#66c2a5" stroke="#000" stroke-width="1.25"/>
<rect x="361.07" y="994.77" width="11.5" height="109.33" fill="#8da0cb" stroke="#000" stroke-width="1.25"/>
<rect x="374.87" y="998.02" width="11.5" height="106.08" fill="#8da0cb" stroke="#000" stroke-width="1.25"/>
<rect x="388.66" y="998.97" width="11.5" height="105.13" fill="#8da0cb" stroke="#000" stroke-width="1.25"/>
<rect x="402.45" y="999.35" width="11.5" height="104.75" fill="#8da0cb" stroke="#000" stroke-width="1.25"/>
<rect x="416.25" y="1000.3" width="11.5" height="103.8" fill="#8da0cb" stroke="#000" stroke-width="1.25"/>
<rect x="430.04" y="1001.83" width="11.5" height="102.27" fill="#8da0cb" stroke="#000" stroke-width="1.25"/>
<rect x="443.83" y="1006.22" width="11.5" height="97.88" fill="#8da0cb" stroke="#000" stroke-width="1.25"/>
<rect x="457.62" y="1010.04" width="11.5" height="94.06" fill="#8da0cb" stroke="#000" stroke-width="1.25"/>
<rect x="471.42" y="1011.18" width="11.5" height="92.92" fill="#8da0cb" stroke="#000" stroke-width="1.25"/>
<rect x="485.21" y="1012.13" width="11.5" height="91.97" fill="#8da0cb" stroke="#000" stroke-width="1.25"/>
<rect x="499" y="1014.23" width="11.5" height="89.87" fill="#8da0cb" stroke="#000" stroke-width="1.25"/>
<rect x="512.8" y="1019.38" width="11.5" height="84.72" fill="#8da0cb" stroke="#000" stroke-width="1.25"/>
<rect x="526.59" y="1020.34" width="11.5" height="83.76" fill="#8da0cb" stroke="#000" stroke-width="1.25"/>
<rect x="540.38" y="1020.72" width="11.5" height="83.38" fill="#8da0cb" stroke="#000" stroke-width="1.25"/>
<rect x="554.18" y="1022.63" width="11.5" height="81.47" fill="#8da0cb" stroke="#000" stroke-width="1.25"/>
<rect x="567.97" y="1027.21" width="11.5" height="76.89" fill="#8da0cb" stroke="#000" stroke-width="1.25"/>
<rect x="581.76" y="1031.21" width="11.5" height="72.89" fill="#8da0cb" stroke="#000" stroke-width="1.25"/>
<rect x="595.55" y="1031.41" width="11.5" height="72.69" fill="#8da0cb" stroke="#000" stroke-width="1.25"/>
<rect x="609.35" y="1034.65" width="11.5" height="69.45" fill="#8da0cb" stroke="#000" stroke-width="1.25"/>
<rect x="623.14" y="1035.6" width="11.5" height="68.5" fill="#8da0cb" stroke="#000" stroke-width="1.25"/>
<rect x="636.93" y="1036.56" width="11.5" height="67.54" fill="#8da0cb" stroke="#000" stroke-width="1.25"/>
<rect x="650.73" y="1039.61" width="11.5" height="64.49" fill="#8da0cb" stroke="#000" stroke-width="1.25"/>
<rect x="664.52" y="1040.75" width="11.5" height="63.35" fill="#8da0cb" stroke="#000" stroke-width="1.25"/>
<rect x="678.31" y="1042.28" width="11.5" height="61.82" fill="#8da0cb" stroke="#000" stroke-width="1.25"/>
<rect x="692.11" y="1045.14" width="11.5" height="58.96" fill="#8da0cb" stroke="#000" stroke-width="1.25"/>
<rect x="705.9" y="1047.62" width="11.5" height="56.48" fill="#8da0cb" stroke="#000" stroke-width="1.25"/>
<rect x="719.69" y="1047.81" width="11.5" height="56.29" fill="#8da0cb" stroke="#000" stroke-width="1.25"/>
<rect x="733.48" y="1048.39" width="11.5" height="55.71" fill="#8da0cb" stroke="#000" stroke-width="1.25"/>
<rect x="747.28" y="1050.49" width="11.5" height="53.61" fill="#8da0cb" stroke="#000" stroke-width="1.25"/>
<rect x="761.07" y="1051.06" width="11.5" height="53.04" fill="#8da0cb" stroke="#000" stroke-width="1.25"/>
<rect x="774.86" y="1052.39" width="11.5" height="51.71" fill="#8da0cb" stroke="#000" stroke-width="1.25"/>
<rect x="788.66" y="1052.97" width="11.5" height="51.13" fill="#8da0cb" stroke="#000" stroke-width="1.25"/>
<rect x="802.45" y="1054.3" width="11.5" height="49.8" fill="#8da0cb" stroke="#000" stroke-width="1.25"/>
<rect x="816.24" y="1054.49" width="11.5" height="49.61" fill="#8da0cb" stroke="#000" stroke-width="1.25"/>
<rect x="830.04" y="1054.87" width="11.5" height="49.23" fill="#8da0cb" stroke="#000" stroke-width="1.25"/>
<rect x="843.83" y="1055.26" width="11.5" height="48.84" fill="#8da0cb" stroke="#000" stroke-width="1.25"/>
<rect x="857.62" y="1055.64" width="11.5" height="48.46" fill="#8da0cb" stroke="#000" stroke-width="1.25"/>
<rect x="871.41" y="1056.21" width="11.5" height="47.89" fill="#8da0cb" stroke="#000" stroke-width="1.25"/>
<rect x="885.21" y="1056.4" width="11.5" height="47.7" fill="#8da0cb" stroke="#000" stroke-width="1.25"/>
<rect x="899" y="1057.16" width="11.5" height="46.94" fill="#8da0cb" stroke="#000" stroke-width="1.25"/>
<rect x="912.79" y="1057.54" width="11.5" height="46.56" fill="#8da0cb" stroke="#000" stroke-width="1.25"/>
<rect x="926.59" y="1057.54" width="11.5" height="46.56" fill="#8da0cb" stroke="#000" stroke-width="1.25"/>
<rect x="940.38" y="1058.12" width="11.5" height="45.98" fill="#8da0cb" stroke="#000" stroke-width="1.25"/>
<rect x="954.17" y="1058.69" width="11.5" height="45.41" fill="#8da0cb" stroke="#000" stroke-width="1.25"/>
<rect x="967.97" y="1058.69" width="11.5" height="45.41" fill="#8da0cb" stroke="#000" stroke-width="1.25"/>
<rect x="981.76" y="1059.07" width="11.5" height="45.03" fill="#8da0cb" stroke="#000" stroke-width="1.25"/>
<rect x="995.55" y="1059.45" width="11.5" height="44.65" fill="#8da0cb" stroke="#000" stroke-width="1.25"/>
<rect x="1009.34" y="1059.45" width="11.5" height="44.65" fill="#8da0cb" stroke="#000" stroke-width="1.25"/>
<rect x="1023.14" y="1060.6" width="11.5" height="43.5" fill="#8da0cb" stroke="#000" stroke-width="1.25"/>
<rect x="1036.93" y="1063.27" width="11.5" height="40.83" fill="#8da0cb" stroke="#000" stroke-width="1.25"/>
<rect x="1050.72" y="1063.46" width="11.5" height="40.64" fill="#8da0cb" stroke="#000" stroke-width="1.25"/>
<rect x="1064.52" y="1064.03" width="11.5" height="40.07" fill="#8da0cb" stroke="#000" stroke-width="1.25"/>
<rect x="1078.31" y="1064.41" width="11.5" height="39.69" fill="#8da0cb" stroke="#000" stroke-width="1.25"/>
<rect x="1092.1" y="1064.41" width="11.5" height="39.69" fill="#8da0cb" stroke="#000" stroke-width="1.25"/>
<rect x="1105.9" y="1064.41" width="11.5" height="39.69" fill="#8da0cb" stroke="#000" stroke-width="1.25"/>
<rect x="1119.69" y="1066.7" width="11.5" height="37.4" fill="#8da0cb" stroke="#000" stroke-width="1.25"/>
<rect x="1133.48" y="1067.08" width="11.5" height="37.02" fill="#8da0cb" stroke="#000" stroke-width="1.25"/>
<rect x="1147.27" y="1067.66" width="11.5" height="36.44" fill="#8da0cb" stroke="#000" stroke-width="1.25"/>
<rect x="1161.07" y="1072.05" width="11.5" height="32.05" fill="#8da0cb" stroke="#000" stroke-width="1.25"/>
<rect x="1174.86" y="1072.43" width="11.5" height="31.67" fill="#8da0cb" stroke="#000" stroke-width="1.25"/>
<rect x="1188.65" y="1075.29" width="11.5" height="28.81" fill="#8da0cb" stroke="#000" stroke-width="1.25"/>
<rect x="1202.45" y="1075.67" width="11.5" height="28.43" fill="#8da0cb" stroke="#000" stroke-width="1.25"/>
<rect x="1216.24" y="1076.82" width="11.5" height="27.28" fill="#8da0cb" stroke="#000" stroke-width="1.25"/>
<rect x="1230.03" y="1077.58" width="11.5" height="26.52" fill="#8da0cb" stroke="#000" stroke-width="1.25"/>
<rect x="1243.83" y="1077.77" width="11.5" height="26.33" fill="#8da0cb" stroke="#000" stroke-width="1.25"/>
<rect x="1257.62" y="1079.11" width="11.5" height="24.99" fill="#8da0cb" stroke="#000" stroke-width="1.25"/>
<rect x="1271.41" y="1080.06" width="11.5" height="24.04" fill="#8da0cb" stroke="#000" stroke-width="1.25"/>
<rect x="1285.2" y="1080.63" width="11.5" height="23.47" fill="#8da0cb" stroke="#000" stroke-width="1.25"/>
<rect x="1299" y="1093.03" width="11.5" height="11.07" fill="#8da0cb" stroke="#000" stroke-width="1.25"/>
<rect x="1312.79" y="1095.32" width="11.5" height="8.78" fill="#8da0cb" stroke="#000" stroke-width="1.25"/>
<rect x="1326.58" y="1099.71" width="11.5" height="4.39" fill="#8da0cb" stroke="#000" stroke-width="1.25"/>
<rect x="1340.38" y="1100.09" width="11.5" height="4.01" fill="#8da0cb" stroke="#000" stroke-width="1.25"/>
<rect x="1354.17" y="1100.47" width="11.5" height="3.63" fill="#8da0cb" stroke="#000" stroke-width="1.25"/>
<rect x="1367.96" y="1104.1" width="11.5" height="7.06" fill="#8da0cb" stroke="#000" stroke-width="1.25"/>
<rect x="1381.76" y="1104.1" width="11.5" height="9.73" fill="#8da0cb" stroke="#000" stroke-width="1.25"/>
<rect x="1395.55" y="1104.1" width="11.5" height="9.73" fill="#8da0cb" stroke="#000" stroke-width="1.25"/>
<rect x="1409.34" y="1104.1" width="11.5" height="12.4" fill="#8da0cb" stroke="#000" stroke-width="1.25"/>
<rect x="1423.13" y="1104.1" width="11.5" height="14.31" fill="#8da0cb" stroke="#000" stroke-width="1.25"/>
<rect x="1436.93" y="1104.1" width="11.5" height="20.03" fill="#8da0cb" stroke="#000" stroke-width="1.25"/>
<rect x="1450.72" y="1104.1" width="11.5" height="22.51" fill="#8da0cb" stroke="#000" stroke-width="1.25"/>
<rect x="1464.51" y="1104.1" width="11.5" height="29.19" fill="#8da0cb" stroke="#000" stroke-width="1.25"/>
<rect x="1478.31" y="1104.1" width="11.5" height="40.45" fill="#8da0cb" stroke="#000" stroke-width="1.25"/>
<rect x="1492.1" y="1104.1" width="11.5" height="46.36" fill="#8da0cb" stroke="#000" stroke-width="1.25"/>
<rect x="1505.89" y="1104.1" width="11.5" height="50.18" fill="#8da0cb" stroke="#000" stroke-width="1.25"/>
<rect x="1519.69" y="1104.1" width="11.5" height="55.33" fill="#8da0cb" stroke="#000" stroke-width="1.25"/>
<path d="M118.55,1084.26V1103.15M114.05,1084.26h9M114.05,1103.15h9M132.34,916.16V923.79M127.84,916.16h9M127.84,923.79h9M146.14,959.09V987.71M141.64,959.09h9M141.64,987.71h9M159.93,913.87V927.8M155.43,913.87h9M155.43,927.8h9M173.72,923.79V926.66M169.22,923.79h9M169.22,926.66h9M187.51,923.41V931.04M183.01,923.41h9M183.01,931.04h9M201.31,927.23V933.72M196.81,927.23h9M196.81,933.72h9M215.1,935.62V941.35M210.6,935.62h9M210.6,941.35h9M228.89,943.06V948.41M224.39,943.06h9M224.39,948.41h9M242.69,943.06V948.41M238.19,943.06h9M238.19,948.41h9M256.48,942.11V960.81M251.98,942.11h9M251.98,960.81h9M270.27,948.79V961.38M265.77,948.79h9M265.77,961.38h9M284.07,956.04V965.58M279.57,956.04h9M279.57,965.58h9M297.86,957.37V976.45M293.36,957.37h9M293.36,976.45h9M311.65,968.44V970.35M307.15,968.44h9M307.15,970.35h9M325.44,972.26V983.71M320.94,972.26h9M320.94,983.71h9M339.24,973.02V987.14M334.74,973.02h9M334.74,987.14h9M353.03,982.18V987.9M348.53,982.18h9M348.53,987.9h9M366.82,991.72V997.82M362.32,991.72h9M362.32,997.82h9M380.62,994.2V1001.83M376.12,994.2h9M376.12,1001.83h9M394.41,993.05V1004.88M389.91,993.05h9M389.91,1004.88h9M408.2,980.08V1018.81M403.7,980.08h9M403.7,1018.81h9M422,990.19V1010.42M417.5,990.19h9M417.5,1010.42h9M435.79,988.48V1015.19M431.29,988.48h9M431.29,1015.19h9M449.58,1001.26V1010.99M445.08,1001.26h9M445.08,1010.99h9M463.38,996.11V1023.77M458.88,996.11h9M458.88,1023.77h9M477.17,1005.07V1017.1M472.67,1005.07h9M472.67,1017.1h9M490.96,1000.88V1023.2M486.46,1000.88h9M486.46,1023.2h9M504.75,1007.36V1021.1M500.25,1007.36h9M500.25,1021.1h9M518.55,1006.6V1032.17M514.05,1006.6h9M514.05,1032.17h9M532.34,993.05V1048.2M527.84,993.05h9M527.84,1048.2h9M546.13,1011.75V1029.69M541.63,1011.75h9M541.63,1029.69h9M559.93,1010.42V1034.84M555.43,1010.42h9M555.43,1034.84h9M573.72,1005.46V1049.15M569.22,1005.46h9M569.22,1049.15h9M587.51,1019.96V1041.33M583.01,1019.96h9M583.01,1041.33h9M601.3,1011.18V1052.39M596.8,1011.18h9M596.8,1052.39h9M615.1,1031.79V1037.51M610.6,1031.79h9M610.6,1037.51h9M628.89,1016.52V1054.87M624.39,1016.52h9M624.39,1054.87h9M642.68,1018.81V1053.92M638.18,1018.81h9M638.18,1053.92h9M656.48,1011.75V1067.66M651.98,1011.75h9M651.98,1067.66h9M670.27,1032.74V1048M665.77,1032.74h9M665.77,1048h9M684.06,1035.41V1049.91M679.56,1035.41h9M679.56,1049.91h9M697.86,1025.11V1064.41M693.36,1025.11h9M693.36,1064.41h9M711.65,1033.31V1061.36M707.15,1033.31h9M707.15,1061.36h9M725.44,1034.27V1061.36M720.94,1034.27h9M720.94,1061.36h9M739.23,1039.04V1057.54M734.73,1039.04h9M734.73,1057.54h9M753.03,1038.08V1063.46M748.53,1038.08h9M748.53,1063.46h9M766.82,1046.29V1055.83M762.32,1046.29h9M762.32,1055.83h9M780.61,1032.55V1072.43M776.11,1032.55h9M776.11,1072.43h9M794.41,1046.1V1059.45M789.91,1046.1h9M789.91,1059.45h9M808.2,1038.46V1070.33M803.7,1038.46h9M803.7,1070.33h9M821.99,1032.55V1076.24M817.49,1032.55h9M817.49,1076.24h9M835.79,1053.54V1056.21M831.29,1053.54h9M831.29,1056.21h9M849.58,1050.87V1059.64M845.08,1050.87h9M845.08,1059.64h9M863.37,1041.33V1069.95M858.87,1041.33h9M858.87,1069.95h9M877.16,1041.33V1069.95M872.66,1041.33h9M872.66,1069.95h9M890.96,1039.04V1073.57M886.46,1039.04h9M886.46,1073.57h9M904.75,1045.14V1069.95M900.25,1045.14h9M900.25,1069.95h9M918.54,1046.67V1068.04M914.04,1046.67h9M914.04,1068.04h9M932.34,1046.29V1068.99M927.84,1046.29h9M927.84,1068.99h9M946.13,1051.06V1064.22M941.63,1051.06h9M941.63,1064.22h9M959.92,1052.77V1062.89M955.42,1052.77h9M955.42,1062.89h9M973.72,1048V1070.52M969.22,1048h9M969.22,1070.52h9M987.51,1051.82V1067.08M983.01,1051.82h9M983.01,1067.08h9M1001.3,1046.67V1072.05M996.8,1046.67h9M996.8,1072.05h9M1015.09,1056.78V1061.93M1010.59,1056.78h9M1010.59,1061.93h9M1028.89,1054.87V1066.32M1024.39,1054.87h9M1024.39,1066.32h9M1042.68,1057.54V1068.99M1038.18,1057.54h9M1038.18,1068.99h9M1056.47,1060.6V1066.32M1051.97,1060.6h9M1051.97,1066.32h9M1070.27,1049.91V1078.15M1065.77,1049.91h9M1065.77,1078.15h9M1084.06,1057.74V1071.09M1079.56,1057.74h9M1079.56,1071.09h9M1097.85,1050.49V1077.77M1093.35,1050.49h9M1093.35,1077.77h9M1111.65,1063.46V1065.37M1107.15,1063.46h9M1107.15,1065.37h9M1125.44,1051.06V1082.35M1120.94,1051.06h9M1120.94,1082.35h9M1139.23,1063.84V1070.14M1134.73,1063.84h9M1134.73,1070.14h9M1153.02,1055.26V1080.06M1148.52,1055.26h9M1148.52,1080.06h9M1166.82,1054.3V1090.55M1162.32,1054.3h9M1162.32,1090.55h9M1180.61,1059.07V1085.78M1176.11,1059.07h9M1176.11,1085.78h9M1194.4,1066.32V1083.3M1189.9,1066.32h9M1189.9,1083.3h9M1208.2,1068.61V1082.92M1203.7,1068.61h9M1203.7,1082.92h9M1221.99,1045.33V1108.49M1217.49,1045.33h9M1217.49,1108.49h9M1235.78,1040.37V1114.59M1231.28,1040.37h9M1231.28,1114.59h9M1249.58,1065.75V1089.6M1245.08,1065.75h9M1245.08,1089.6h9M1263.37,1056.21V1102.19M1258.87,1056.21h9M1258.87,1102.19h9M1277.16,1069.57V1090.93M1272.66,1069.57h9M1272.66,1090.93h9M1290.95,1067.28V1092.08M1286.45,1067.28h9M1286.45,1092.08h9M1304.75,1065.37V1120.7M1300.25,1065.37h9M1300.25,1120.7h9M1318.54,1081.97V1107.34M1314.04,1081.97h9M1314.04,1107.34h9M1332.33,1092.08V1107.34M1327.83,1092.08h9M1327.83,1107.34h9M1346.13,1088.26V1111.73M1341.63,1088.26h9M1341.63,1111.73h9M1359.92,1074.34V1126.04M1355.42,1074.34h9M1355.42,1126.04h9M1373.71,1099.71V1121.65M1369.21,1099.71h9M1369.21,1121.65h9M1387.51,1091.13V1136.54M1383.01,1091.13h9M1383.01,1136.54h9M1401.3,1097.8V1130.81M1396.8,1097.8h9M1396.8,1130.81h9M1415.09,1094.56V1138.83M1410.59,1094.56h9M1410.59,1138.83h9M1428.88,1101.62V1135.58M1424.38,1101.62h9M1424.38,1135.58h9M1442.68,1112.69V1135.58M1438.18,1112.69h9M1438.18,1135.58h9M1456.47,1114.59V1139.4M1451.97,1114.59h9M1451.97,1139.4h9M1470.26,1102.57V1164.2M1465.76,1102.57h9M1465.76,1164.2h9M1484.06,1135.58V1153.52M1479.56,1135.58h9M1479.56,1153.52h9M1497.85,1135.58V1165.16M1493.35,1135.58h9M1493.35,1165.16h9M1511.64,1129.48V1179.28M1507.14,1129.48h9M1507.14,1179.28h9M1525.44,1136.15V1182.33M1520.94,1136.15h9M1520.94,1182.33h9" stroke="#000" stroke-width="1.6" fill="none"/>
<path d="M116.35,1084.26a2.2,2.2 0 1,0 4.4,0a2.2,2.2 0 1,0 -4.4,0M116.35,1089.22a2.2,2.2 0 1,0 4.4,0a2.2,2.2 0 1,0 -4.4,0M116.35,1103.15a2.2,2.2 0 1,0 4.4,0a2.2,2.2 0 1,0 -4.4,0M130.14,916.16a2.2,2.2 0 1,0 4.4,0a2.2,2.2 0 1,0 -4.4,0M130.14,917.88a2.2,2.2 0 1,0 4.4,0a2.2,2.2 0 1,0 -4.4,0M130.14,923.79a2.2,2.2 0 1,0 4.4,0a2.2,2.2 0 1,0 -4.4,0M143.94,959.09a2.2,2.2 0 1,0 4.4,0a2.2,2.2 0 1,0 -4.4,0M143.94,966.06a2.2,2.2 0 1,0 4.4,0a2.2,2.2 0 1,0 -4.4,0M143.94,987.71a2.2,2.2 0 1,0 4.4,0a2.2,2.2 0 1,0 -4.4,0M157.73,913.87a2.2,2.2 0 1,0 4.4,0a2.2,2.2 0 1,0 -4.4,0M157.73,917.4a2.2,2.2 0 1,0 4.4,0a2.2,2.2 0 1,0 -4.4,0M157.73,927.8a2.2,2.2 0 1,0 4.4,0a2.2,2.2 0 1,0 -4.4,0M171.52,923.79a2.2,2.2 0 1,0 4.4,0a2.2,2.2 0 1,0 -4.4,0M171.52,924.46a2.2,2.2 0 1,0 4.4,0a2.2,2.2 0 1,0 -4.4,0M171.52,926.66a2.2,2.2 0 1,0 4.4,0a2.2,2.2 0 1,0 -4.4,0M185.31,923.41a2.2,2.2 0 1,0 4.4,0a2.2,2.2 0 1,0 -4.4,0M185.31,925.32a2.2,2.2 0 1,0 4.4,0a2.2,2.2 0 1,0 -4.4,0M185.31,931.04a2.2,2.2 0 1,0 4.4,0a2.2,2.2 0 1,0 -4.4,0M199.11,927.23a2.2,2.2 0 1,0 4.4,0a2.2,2.2 0 1,0 -4.4,0M199.11,928.85a2.2,2.2 0 1,0 4.4,0a2.2,2.2 0 1,0 -4.4,0M199.11,933.72a2.2,2.2 0 1,0 4.4,0a2.2,2.2 0 1,0 -4.4,0M212.9,935.62a2.2,2.2 0 1,0 4.4,0a2.2,2.2 0 1,0 -4.4,0M212.9,937.05a2.2,2.2 0 1,0 4.4,0a2.2,2.2 0 1,0 -4.4,0M212.9,941.35a2.2,2.2 0 1,0 4.4,0a2.2,2.2 0 1,0 -4.4,0M226.69,943.06a2.2,2.2 0 1,0 4.4,0a2.2,2.2 0 1,0 -4.4,0M226.69,944.4a2.2,2.2 0 1,0 4.4,0a2.2,2.2 0 1,0 -4.4,0M226.69,948.41a2.2,2.2 0 1,0 4.4,0a2.2,2.2 0 1,0 -4.4,0M240.49,943.06a2.2,2.2 0 1,0 4.4,0a2.2,2.2 0 1,0 -4.4,0M240.49,944.4a2.2,2.2 0 1,0 4.4,0a2.2,2.2 0 1,0 -4.4,0M240.49,948.41a2.2,2.2 0 1,0 4.4,0a2.2,2.2 0 1,0 -4.4,0M254.28,942.11a2.2,2.2 0 1,0 4.4,0a2.2,2.2 0 1,0 -4.4,0M254.28,946.69a2.2,2.2 0 1,0 4.4,0a2.2,2.2 0 1,0 -4.4,0M254.28,960.81a2.2,2.2 0 1,0 4.4,0a2.2,2.2 0 1,0 -4.4,0M268.07,948.79a2.2,2.2 0 1,0 4.4,0a2.2,2.2 0 1,0 -4.4,0M268.07,951.94a2.2,2.2 0 1,0 4.4,0a2.2,2.2 0 1,0 -4.4,0M268.07,961.38a2.2,2.2 0 1,0 4.4,0a2.2,2.2 0 1,0 -4.4,0M281.87,956.04a2.2,2.2 0 1,0 4.4,0a2.2,2.2 0 1,0 -4.4,0M281.87,958.42a2.2,2.2 0 1,0 4.4,0a2.2,2.2 0 1,0 -4.4,0M281.87,965.58a2.2,2.2 0 1,0 4.4,0a2.2,2.2 0 1,0 -4.4,0M295.66,957.37a2.2,2.2 0 1,0 4.4,0a2.2,2.2 0 1,0 -4.4,0M295.66,962.14a2.2,2.2 0 1,0 4.4,0a2.2,2.2 0 1,0 -4.4,0M295.66,976.45a2.2,2.2 0 1,0 4.4,0a2.2,2.2 0 1,0 -4.4,0M309.45,968.44a2.2,2.2 0 1,0 4.4,0a2.2,2.2 0 1,0 -4.4,0M309.45,968.92a2.2,2.2 0 1,0 4.4,0a2.2,2.2 0 1,0 -4.4,0M309.45,970.35a2.2,2.2 0 1,0 4.4,0a2.2,2.2 0 1,0 -4.4,0M323.25,972.26a2.2,2.2 0 1,0 4.4,0a2.2,2.2 0 1,0 -4.4,0M323.25,975.12a2.2,2.2 0 1,0 4.4,0a2.2,2.2 0 1,0 -4.4,0M323.25,983.71a2.2,2.2 0 1,0 4.4,0a2.2,2.2 0 1,0 -4.4,0M337.04,973.02a2.2,2.2 0 1,0 4.4,0a2.2,2.2 0 1,0 -4.4,0M337.04,976.45a2.2,2.2 0 1,0 4.4,0a2.2,2.2 0 1,0 -4.4,0M337.04,987.14a2.2,2.2 0 1,0 4.4,0a2.2,2.2 0 1,0 -4.4,0M350.83,982.18a2.2,2.2 0 1,0 4.4,0a2.2,2.2 0 1,0 -4.4,0M350.83,983.61a2.2,2.2 0 1,0 4.4,0a2.2,2.2 0 1,0 -4.4,0M350.83,987.9a2.2,2.2 0 1,0 4.4,0a2.2,2.2 0 1,0 -4.4,0M364.62,991.72a2.2,2.2 0 1,0 4.4,0a2.2,2.2 0 1,0 -4.4,0M364.62,993.25a2.2,2.2 0 1,0 4.4,0a2.2,2.2 0 1,0 -4.4,0M364.62,997.82a2.2,2.2 0 1,0 4.4,0a2.2,2.2 0 1,0 -4.4,0M378.42,994.2a2.2,2.2 0 1,0 4.4,0a2.2,2.2 0 1,0 -4.4,0M378.42,996.11a2.2,2.2 0 1,0 4.4,0a2.2,2.2 0 1,0 -4.4,0M378.42,1001.83a2.2,2.2 0 1,0 4.4,0a2.2,2.2 0 1,0 -4.4,0M392.21,993.05a2.2,2.2 0 1,0 4.4,0a2.2,2.2 0 1,0 -4.4,0M392.21,996.01a2.2,2.2 0 1,0 4.4,0a2.2,2.2 0 1,0 -4.4,0M392.21,1004.88a2.2,2.2 0 1,0 4.4,0a2.2,2.2 0 1,0 -4.4,0M406,980.08a2.2,2.2 0 1,0 4.4,0a2.2,2.2 0 1,0 -4.4,0M406,989.72a2.2,2.2 0 1,0 4.4,0a2.2,2.2 0 1,0 -4.4,0M406,1018.81a2.2,2.2 0 1,0 4.4,0a2.2,2.2 0 1,0 -4.4,0M419.8,990.19a2.2,2.2 0 1,0 4.4,0a2.2,2.2 0 1,0 -4.4,0M419.8,995.25a2.2,2.2 0 1,0 4.4,0a2.2,2.2 0 1,0 -4.4,0M419.8,1010.42a2.2,2.2 0 1,0 4.4,0a2.2,2.2 0 1,0 -4.4,0M433.59,988.48a2.2,2.2 0 1,0 4.4,0a2.2,2.2 0 1,0 -4.4,0M433.59,995.15a2.2,2.2 0 1,0 4.4,0a2.2,2.2 0 1,0 -4.4,0M433.59,1015.19a2.2,2.2 0 1,0 4.4,0a2.2,2.2 0 1,0 -4.4,0M447.38,1001.26a2.2,2.2 0 1,0 4.4,0a2.2,2.2 0 1,0 -4.4,0M447.38,1003.74a2.2,2.2 0 1,0 4.4,0a2.2,2.2 0 1,0 -4.4,0M447.38,1010.99a2.2,2.2 0 1,0 4.4,0a2.2,2.2 0 1,0 -4.4,0M461.18,996.11a2.2,2.2 0 1,0 4.4,0a2.2,2.2 0 1,0 -4.4,0M461.18,1003.07a2.2,2.2 0 1,0 4.4,0a2.2,2.2 0 1,0 -4.4,0M461.18,1023.77a2.2,2.2 0 1,0 4.4,0a2.2,2.2 0 1,0 -4.4,0M474.97,1005.07a2.2,2.2 0 1,0 4.4,0a2.2,2.2 0 1,0 -4.4,0M474.97,1008.13a2.2,2.2 0 1,0 4.4,0a2.2,2.2 0 1,0 -4.4,0M474.97,1017.1a2.2,2.2 0 1,0 4.4,0a2.2,2.2 0 1,0 -4.4,0M488.76,1000.88a2.2,2.2 0 1,0 4.4,0a2.2,2.2 0 1,0 -4.4,0M488.76,1006.51a2.2,2.2 0 1,0 4.4,0a2.2,2.2 0 1,0 -4.4,0M488.76,1023.2a2.2,2.2 0 1,0 4.4,0a2.2,2.2 0 1,0 -4.4,0M502.55,1007.36a2.2,2.2 0 1,0 4.4,0a2.2,2.2 0 1,0 -4.4,0M502.55,1010.8a2.2,2.2 0 1,0 4.4,0a2.2,2.2 0 1,0 -4.4,0M502.55,1021.1a2.2,2.2 0 1,0 4.4,0a2.2,2.2 0 1,0 -4.4,0M516.35,1006.6a2.2,2.2 0 1,0 4.4,0a2.2,2.2 0 1,0 -4.4,0M516.35,1012.99a2.2,2.2 0 1,0 4.4,0a2.2,2.2 0 1,0 -4.4,0M516.35,1032.17a2.2,2.2 0 1,0 4.4,0a2.2,2.2 0 1,0 -4.4,0M530.14,993.05a2.2,2.2 0 1,0 4.4,0a2.2,2.2 0 1,0 -4.4,0M530.14,1006.7a2.2,2.2 0 1,0 4.4,0a2.2,2.2 0 1,0 -4.4,0M530.14,1048.2a2.2,2.2 0 1,0 4.4,0a2.2,2.2 0 1,0 -4.4,0M543.93,1011.75a2.2,2.2 0 1,0 4.4,0a2.2,2.2 0 1,0 -4.4,0M543.93,1016.24a2.2,2.2 0 1,0 4.4,0a2.2,2.2 0 1,0 -4.4,0M543.93,1029.69a2.2,2.2 0 1,0 4.4,0a2.2,2.2 0 1,0 -4.4,0M557.73,1010.42a2.2,2.2 0 1,0 4.4,0a2.2,2.2 0 1,0 -4.4,0M557.73,1016.52a2.2,2.2 0 1,0 4.4,0a2.2,2.2 0 1,0 -4.4,0M557.73,1034.84a2.2,2.2 0 1,0 4.4,0a2.2,2.2 0 1,0 -4.4,0M571.52,1005.46a2.2,2.2 0 1,0 4.4,0a2.2,2.2 0 1,0 -4.4,0M571.52,1016.33a2.2,2.2 0 1,0 4.4,0a2.2,2.2 0 1,0 -4.4,0M571.52,1049.15a2.2,2.2 0 1,0 4.4,0a2.2,2.2 0 1,0 -4.4,0M585.31,1019.96a2.2,2.2 0 1,0 4.4,0a2.2,2.2 0 1,0 -4.4,0M585.31,1025.59a2.2,2.2 0 1,0 4.4,0a2.2,2.2 0 1,0 -4.4,0M585.31,1041.33a2.2,2.2 0 1,0 4.4,0a2.2,2.2 0 1,0 -4.4,0M599.1,1011.18a2.2,2.2 0 1,0 4.4,0a2.2,2.2 0 1,0 -4.4,0M599.1,1021.29a2.2,2.2 0 1,0 4.4,0a2.2,2.2 0 1,0 -4.4,0M599.1,1052.39a2.2,2.2 0 1,0 4.4,0a2.2,2.2 0 1,0 -4.4,0M612.9,1031.79a2.2,2.2 0 1,0 4.4,0a2.2,2.2 0 1,0 -4.4,0M612.9,1033.22a2.2,2.2 0 1,0 4.4,0a2.2,2.2 0 1,0 -4.4,0M612.9,1037.51a2.2,2.2 0 1,0 4.4,0a2.2,2.2 0 1,0 -4.4,0M626.69,1016.52a2.2,2.2 0 1,0 4.4,0a2.2,2.2 0 1,0 -4.4,0M626.69,1026.06a2.2,2.2 0 1,0 4.4,0a2.2,2.2 0 1,0 -4.4,0M626.69,1054.87a2.2,2.2 0 1,0 4.4,0a2.2,2.2 0 1,0 -4.4,0M640.48,1018.81a2.2,2.2 0 1,0 4.4,0a2.2,2.2 0 1,0 -4.4,0M640.48,1027.68a2.2,2.2 0 1,0 4.4,0a2.2,2.2 0 1,0 -4.4,0M640.48,1053.92a2.2,2.2 0 1,0 4.4,0a2.2,2.2 0 1,0 -4.4,0M654.28,1011.75a2.2,2.2 0 1,0 4.4,0a2.2,2.2 0 1,0 -4.4,0M654.28,1025.68a2.2,2.2 0 1,0 4.4,0a2.2,2.2 0 1,0 -4.4,0M654.28,1067.66a2.2,2.2 0 1,0 4.4,0a2.2,2.2 0 1,0 -4.4,0M668.07,1032.74a2.2,2.2 0 1,0 4.4,0a2.2,2.2 0 1,0 -4.4,0M668.07,1036.75a2.2,2.2 0 1,0 4.4,0a2.2,2.2 0 1,0 -4.4,0M668.07,1048a2.2,2.2 0 1,0 4.4,0a2.2,2.2 0 1,0 -4.4,0M681.86,1035.41a2.2,2.2 0 1,0 4.4,0a2.2,2.2 0 1,0 -4.4,0M681.86,1038.85a2.2,2.2 0 1,0 4.4,0a2.2,2.2 0 1,0 -4.4,0M681.86,1049.91a2.2,2.2 0 1,0 4.4,0a2.2,2.2 0 1,0 -4.4,0M695.66,1025.11a2.2,2.2 0 1,0 4.4,0a2.2,2.2 0 1,0 -4.4,0M695.66,1035.13a2.2,2.2 0 1,0 4.4,0a2.2,2.2 0 1,0 -4.4,0M695.66,1064.41a2.2,2.2 0 1,0 4.4,0a2.2,2.2 0 1,0 -4.4,0M709.45,1033.31a2.2,2.2 0 1,0 4.4,0a2.2,2.2 0 1,0 -4.4,0M709.45,1040.47a2.2,2.2 0 1,0 4.4,0a2.2,2.2 0 1,0 -4.4,0M709.45,1061.36a2.2,2.2 0 1,0 4.4,0a2.2,2.2 0 1,0 -4.4,0M723.24,1034.27a2.2,2.2 0 1,0 4.4,0a2.2,2.2 0 1,0 -4.4,0M723.24,1041.04a2.2,2.2 0 1,0 4.4,0a2.2,2.2 0 1,0 -4.4,0M723.24,1061.36a2.2,2.2 0 1,0 4.4,0a2.2,2.2 0 1,0 -4.4,0M737.03,1039.04a2.2,2.2 0 1,0 4.4,0a2.2,2.2 0 1,0 -4.4,0M737.03,1043.71a2.2,2.2 0 1,0 4.4,0a2.2,2.2 0 1,0 -4.4,0M737.03,1057.54a2.2,2.2 0 1,0 4.4,0a2.2,2.2 0 1,0 -4.4,0M750.83,1038.08a2.2,2.2 0 1,0 4.4,0a2.2,2.2 0 1,0 -4.4,0M750.83,1044.28a2.2,2.2 0 1,0 4.4,0a2.2,2.2 0 1,0 -4.4,0M750.83,1063.46a2.2,2.2 0 1,0 4.4,0a2.2,2.2 0 1,0 -4.4,0M764.62,1046.29a2.2,2.2 0 1,0 4.4,0a2.2,2.2 0 1,0 -4.4,0M764.62,1048.67a2.2,2.2 0 1,0 4.4,0a2.2,2.2 0 1,0 -4.4,0M764.62,1055.83a2.2,2.2 0 1,0 4.4,0a2.2,2.2 0 1,0 -4.4,0M778.41,1032.55a2.2,2.2 0 1,0 4.4,0a2.2,2.2 0 1,0 -4.4,0M778.41,1042.47a2.2,2.2 0 1,0 4.4,0a2.2,2.2 0 1,0 -4.4,0M778.41,1072.43a2.2,2.2 0 1,0 4.4,0a2.2,2.2 0 1,0 -4.4,0M792.21,1046.1a2.2,2.2 0 1,0 4.4,0a2.2,2.2 0 1,0 -4.4,0M792.21,1049.53a2.2,2.2 0 1,0 4.4,0a2.2,2.2 0 1,0 -4.4,0M792.21,1059.45a2.2,2.2 0 1,0 4.4,0a2.2,2.2 0 1,0 -4.4,0M806,1038.46a2.2,2.2 0 1,0 4.4,0a2.2,2.2 0 1,0 -4.4,0M806,1046.38a2.2,2.2 0 1,0 4.4,0a2.2,2.2 0 1,0 -4.4,0M806,1070.33a2.2,2.2 0 1,0 4.4,0a2.2,2.2 0 1,0 -4.4,0M819.79,1032.55a2.2,2.2 0 1,0 4.4,0a2.2,2.2 0 1,0 -4.4,0M819.79,1043.52a2.2,2.2 0 1,0 4.4,0a2.2,2.2 0 1,0 -4.4,0M819.79,1076.24a2.2,2.2 0 1,0 4.4,0a2.2,2.2 0 1,0 -4.4,0M833.59,1053.54a2.2,2.2 0 1,0 4.4,0a2.2,2.2 0 1,0 -4.4,0M833.59,1054.21a2.2,2.2 0 1,0 4.4,0a2.2,2.2 0 1,0 -4.4,0M833.59,1056.21a2.2,2.2 0 1,0 4.4,0a2.2,2.2 0 1,0 -4.4,0M847.38,1050.87a2.2,2.2 0 1,0 4.4,0a2.2,2.2 0 1,0 -4.4,0M847.38,1053.06a2.2,2.2 0 1,0 4.4,0a2.2,2.2 0 1,0 -4.4,0M847.38,1059.64a2.2,2.2 0 1,0 4.4,0a2.2,2.2 0 1,0 -4.4,0M861.17,1041.33a2.2,2.2 0 1,0 4.4,0a2.2,2.2 0 1,0 -4.4,0M861.17,1048.48a2.2,2.2 0 1,0 4.4,0a2.2,2.2 0 1,0 -4.4,0M861.17,1069.95a2.2,2.2 0 1,0 4.4,0a2.2,2.2 0 1,0 -4.4,0M874.96,1041.33a2.2,2.2 0 1,0 4.4,0a2.2,2.2 0 1,0 -4.4,0M874.96,1048.77a2.2,2.2 0 1,0 4.4,0a2.2,2.2 0 1,0 -4.4,0M874.96,1069.95a2.2,2.2 0 1,0 4.4,0a2.2,2.2 0 1,0 -4.4,0M888.76,1039.04a2.2,2.2 0 1,0 4.4,0a2.2,2.2 0 1,0 -4.4,0M888.76,1047.72a2.2,2.2 0 1,0 4.4,0a2.2,2.2 0 1,0 -4.4,0M888.76,1073.57a2.2,2.2 0 1,0 4.4,0a2.2,2.2 0 1,0 -4.4,0M902.55,1045.14a2.2,2.2 0 1,0 4.4,0a2.2,2.2 0 1,0 -4.4,0M902.55,1051.15a2.2,2.2 0 1,0 4.4,0a2.2,2.2 0 1,0 -4.4,0M902.55,1069.95a2.2,2.2 0 1,0 4.4,0a2.2,2.2 0 1,0 -4.4,0M916.34,1046.67a2.2,2.2 0 1,0 4.4,0a2.2,2.2 0 1,0 -4.4,0M916.34,1052.11a2.2,2.2 0 1,0 4.4,0a2.2,2.2 0 1,0 -4.4,0M916.34,1068.04a2.2,2.2 0 1,0 4.4,0a2.2,2.2 0 1,0 -4.4,0M930.14,1046.29a2.2,2.2 0 1,0 4.4,0a2.2,2.2 0 1,0 -4.4,0M930.14,1051.92a2.2,2.2 0 1,0 4.4,0a2.2,2.2 0 1,0 -4.4,0M930.14,1068.99a2.2,2.2 0 1,0 4.4,0a2.2,2.2 0 1,0 -4.4,0M943.93,1051.06a2.2,2.2 0 1,0 4.4,0a2.2,2.2 0 1,0 -4.4,0M943.93,1054.59a2.2,2.2 0 1,0 4.4,0a2.2,2.2 0 1,0 -4.4,0M943.93,1064.22a2.2,2.2 0 1,0 4.4,0a2.2,2.2 0 1,0 -4.4,0M957.72,1052.77a2.2,2.2 0 1,0 4.4,0a2.2,2.2 0 1,0 -4.4,0M957.72,1055.73a2.2,2.2 0 1,0 4.4,0a2.2,2.2 0 1,0 -4.4,0M957.72,1062.89a2.2,2.2 0 1,0 4.4,0a2.2,2.2 0 1,0 -4.4,0M971.52,1048a2.2,2.2 0 1,0 4.4,0a2.2,2.2 0 1,0 -4.4,0M971.52,1053.35a2.2,2.2 0 1,0 4.4,0a2.2,2.2 0 1,0 -4.4,0M971.52,1070.52a2.2,2.2 0 1,0 4.4,0a2.2,2.2 0 1,0 -4.4,0M985.31,1051.82a2.2,2.2 0 1,0 4.4,0a2.2,2.2 0 1,0 -4.4,0M985.31,1055.45a2.2,2.2 0 1,0 4.4,0a2.2,2.2 0 1,0 -4.4,0M985.31,1067.08a2.2,2.2 0 1,0 4.4,0a2.2,2.2 0 1,0 -4.4,0M999.1,1046.67a2.2,2.2 0 1,0 4.4,0a2.2,2.2 0 1,0 -4.4,0M999.1,1053.06a2.2,2.2 0 1,0 4.4,0a2.2,2.2 0 1,0 -4.4,0M999.1,1072.05a2.2,2.2 0 1,0 4.4,0a2.2,2.2 0 1,0 -4.4,0M1012.89,1056.78a2.2,2.2 0 1,0 4.4,0a2.2,2.2 0 1,0 -4.4,0M1012.89,1058.12a2.2,2.2 0 1,0 4.4,0a2.2,2.2 0 1,0 -4.4,0M1012.89,1061.93a2.2,2.2 0 1,0 4.4,0a2.2,2.2 0 1,0 -4.4,0M1026.69,1054.87a2.2,2.2 0 1,0 4.4,0a2.2,2.2 0 1,0 -4.4,0M1026.69,1057.74a2.2,2.2 0 1,0 4.4,0a2.2,2.2 0 1,0 -4.4,0M1026.69,1066.32a2.2,2.2 0 1,0 4.4,0a2.2,2.2 0 1,0 -4.4,0M1040.48,1057.54a2.2,2.2 0 1,0 4.4,0a2.2,2.2 0 1,0 -4.4,0M1040.48,1060.41a2.2,2.2 0 1,0 4.4,0a2.2,2.2 0 1,0 -4.4,0M1040.48,1068.99a2.2,2.2 0 1,0 4.4,0a2.2,2.2 0 1,0 -4.4,0M1054.27,1060.6a2.2,2.2 0 1,0 4.4,0a2.2,2.2 0 1,0 -4.4,0M1054.27,1062.03a2.2,2.2 0 1,0 4.4,0a2.2,2.2 0 1,0 -4.4,0M1054.27,1066.32a2.2,2.2 0 1,0 4.4,0a2.2,2.2 0 1,0 -4.4,0M1068.07,1049.91a2.2,2.2 0 1,0 4.4,0a2.2,2.2 0 1,0 -4.4,0M1068.07,1056.97a2.2,2.2 0 1,0 4.4,0a2.2,2.2 0 1,0 -4.4,0M1068.07,1078.15a2.2,2.2 0 1,0 4.4,0a2.2,2.2 0 1,0 -4.4,0M1081.86,1057.74a2.2,2.2 0 1,0 4.4,0a2.2,2.2 0 1,0 -4.4,0M1081.86,1061.07a2.2,2.2 0 1,0 4.4,0a2.2,2.2 0 1,0 -4.4,0M1081.86,1071.09a2.2,2.2 0 1,0 4.4,0a2.2,2.2 0 1,0 -4.4,0M1095.65,1050.49a2.2,2.2 0 1,0 4.4,0a2.2,2.2 0 1,0 -4.4,0M1095.65,1057.45a2.2,2.2 0 1,0 4.4,0a2.2,2.2 0 1,0 -4.4,0M1095.65,1077.77a2.2,2.2 0 1,0 4.4,0a2.2,2.2 0 1,0 -4.4,0M1109.45,1063.46a2.2,2.2 0 1,0 4.4,0a2.2,2.2 0 1,0 -4.4,0M1109.45,1063.94a2.2,2.2 0 1,0 4.4,0a2.2,2.2 0 1,0 -4.4,0M1109.45,1065.37a2.2,2.2 0 1,0 4.4,0a2.2,2.2 0 1,0 -4.4,0M1123.24,1051.06a2.2,2.2 0 1,0 4.4,0a2.2,2.2 0 1,0 -4.4,0M1123.24,1058.88a2.2,2.2 0 1,0 4.4,0a2.2,2.2 0 1,0 -4.4,0M1123.24,1082.35a2.2,2.2 0 1,0 4.4,0a2.2,2.2 0 1,0 -4.4,0M1137.03,1063.84a2.2,2.2 0 1,0 4.4,0a2.2,2.2 0 1,0 -4.4,0M1137.03,1065.46a2.2,2.2 0 1,0 4.4,0a2.2,2.2 0 1,0 -4.4,0M1137.03,1070.14a2.2,2.2 0 1,0 4.4,0a2.2,2.2 0 1,0 -4.4,0M1150.82,1055.26a2.2,2.2 0 1,0 4.4,0a2.2,2.2 0 1,0 -4.4,0M1150.82,1061.46a2.2,2.2 0 1,0 4.4,0a2.2,2.2 0 1,0 -4.4,0M1150.82,1080.06a2.2,2.2 0 1,0 4.4,0a2.2,2.2 0 1,0 -4.4,0M1164.62,1054.3a2.2,2.2 0 1,0 4.4,0a2.2,2.2 0 1,0 -4.4,0M1164.62,1063.17a2.2,2.2 0 1,0 4.4,0a2.2,2.2 0 1,0 -4.4,0M1164.62,1090.55a2.2,2.2 0 1,0 4.4,0a2.2,2.2 0 1,0 -4.4,0M1178.41,1059.07a2.2,2.2 0 1,0 4.4,0a2.2,2.2 0 1,0 -4.4,0M1178.41,1065.75a2.2,2.2 0 1,0 4.4,0a2.2,2.2 0 1,0 -4.4,0M1178.41,1085.78a2.2,2.2 0 1,0 4.4,0a2.2,2.2 0 1,0 -4.4,0M1192.2,1066.32a2.2,2.2 0 1,0 4.4,0a2.2,2.2 0 1,0 -4.4,0M1192.2,1070.81a2.2,2.2 0 1,0 4.4,0a2.2,2.2 0 1,0 -4.4,0M1192.2,1083.3a2.2,2.2 0 1,0 4.4,0a2.2,2.2 0 1,0 -4.4,0M1206,1068.61a2.2,2.2 0 1,0 4.4,0a2.2,2.2 0 1,0 -4.4,0M1206,1072.14a2.2,2.2 0 1,0 4.4,0a2.2,2.2 0 1,0 -4.4,0M1206,1082.92a2.2,2.2 0 1,0 4.4,0a2.2,2.2 0 1,0 -4.4,0M1219.79,1045.33a2.2,2.2 0 1,0 4.4,0a2.2,2.2 0 1,0 -4.4,0M1219.79,1061.07a2.2,2.2 0 1,0 4.4,0a2.2,2.2 0 1,0 -4.4,0M1219.79,1108.49a2.2,2.2 0 1,0 4.4,0a2.2,2.2 0 1,0 -4.4,0M1233.58,1040.37a2.2,2.2 0 1,0 4.4,0a2.2,2.2 0 1,0 -4.4,0M1233.58,1058.98a2.2,2.2 0 1,0 4.4,0a2.2,2.2 0 1,0 -4.4,0M1233.58,1114.59a2.2,2.2 0 1,0 4.4,0a2.2,2.2 0 1,0 -4.4,0M1247.38,1065.75a2.2,2.2 0 1,0 4.4,0a2.2,2.2 0 1,0 -4.4,0M1247.38,1071.76a2.2,2.2 0 1,0 4.4,0a2.2,2.2 0 1,0 -4.4,0M1247.38,1089.6a2.2,2.2 0 1,0 4.4,0a2.2,2.2 0 1,0 -4.4,0M1261.17,1056.21a2.2,2.2 0 1,0 4.4,0a2.2,2.2 0 1,0 -4.4,0M1261.17,1067.66a2.2,2.2 0 1,0 4.4,0a2.2,2.2 0 1,0 -4.4,0M1261.17,1102.19a2.2,2.2 0 1,0 4.4,0a2.2,2.2 0 1,0 -4.4,0M1274.96,1069.57a2.2,2.2 0 1,0 4.4,0a2.2,2.2 0 1,0 -4.4,0M1274.96,1074.81a2.2,2.2 0 1,0 4.4,0a2.2,2.2 0 1,0 -4.4,0M1274.96,1090.93a2.2,2.2 0 1,0 4.4,0a2.2,2.2 0 1,0 -4.4,0M1288.75,1067.28a2.2,2.2 0 1,0 4.4,0a2.2,2.2 0 1,0 -4.4,0M1288.75,1073.95a2.2,2.2 0 1,0 4.4,0a2.2,2.2 0 1,0 -4.4,0M1288.75,1092.08a2.2,2.2 0 1,0 4.4,0a2.2,2.2 0 1,0 -4.4,0M1302.55,1065.37a2.2,2.2 0 1,0 4.4,0a2.2,2.2 0 1,0 -4.4,0M1302.55,1079.2a2.2,2.2 0 1,0 4.4,0a2.2,2.2 0 1,0 -4.4,0M1302.55,1120.7a2.2,2.2 0 1,0 4.4,0a2.2,2.2 0 1,0 -4.4,0M1316.34,1081.97a2.2,2.2 0 1,0 4.4,0a2.2,2.2 0 1,0 -4.4,0M1316.34,1088.65a2.2,2.2 0 1,0 4.4,0a2.2,2.2 0 1,0 -4.4,0M1316.34,1107.34a2.2,2.2 0 1,0 4.4,0a2.2,2.2 0 1,0 -4.4,0M1330.13,1092.08a2.2,2.2 0 1,0 4.4,0a2.2,2.2 0 1,0 -4.4,0M1330.13,1095.9a2.2,2.2 0 1,0 4.4,0a2.2,2.2 0 1,0 -4.4,0M1330.13,1107.34a2.2,2.2 0 1,0 4.4,0a2.2,2.2 0 1,0 -4.4,0M1343.93,1088.26a2.2,2.2 0 1,0 4.4,0a2.2,2.2 0 1,0 -4.4,0M1343.93,1094.18a2.2,2.2 0 1,0 4.4,0a2.2,2.2 0 1,0 -4.4,0M1343.93,1111.73a2.2,2.2 0 1,0 4.4,0a2.2,2.2 0 1,0 -4.4,0M1357.72,1074.34a2.2,2.2 0 1,0 4.4,0a2.2,2.2 0 1,0 -4.4,0M1357.72,1087.4a2.2,2.2 0 1,0 4.4,0a2.2,2.2 0 1,0 -4.4,0M1357.72,1126.04a2.2,2.2 0 1,0 4.4,0a2.2,2.2 0 1,0 -4.4,0M1371.51,1099.71a2.2,2.2 0 1,0 4.4,0a2.2,2.2 0 1,0 -4.4,0M1371.51,1105.44a2.2,2.2 0 1,0 4.4,0a2.2,2.2 0 1,0 -4.4,0M1371.51,1121.65a2.2,2.2 0 1,0 4.4,0a2.2,2.2 0 1,0 -4.4,0M1385.31,1091.13a2.2,2.2 0 1,0 4.4,0a2.2,2.2 0 1,0 -4.4,0M1385.31,1102.48a2.2,2.2 0 1,0 4.4,0a2.2,2.2 0 1,0 -4.4,0M1385.31,1136.54a2.2,2.2 0 1,0 4.4,0a2.2,2.2 0 1,0 -4.4,0M1399.1,1097.8a2.2,2.2 0 1,0 4.4,0a2.2,2.2 0 1,0 -4.4,0M1399.1,1105.82a2.2,2.2 0 1,0 4.4,0a2.2,2.2 0 1,0 -4.4,0M1399.1,1130.81a2.2,2.2 0 1,0 4.4,0a2.2,2.2 0 1,0 -4.4,0M1412.89,1094.56a2.2,2.2 0 1,0 4.4,0a2.2,2.2 0 1,0 -4.4,0M1412.89,1105.53a2.2,2.2 0 1,0 4.4,0a2.2,2.2 0 1,0 -4.4,0M1412.89,1138.83a2.2,2.2 0 1,0 4.4,0a2.2,2.2 0 1,0 -4.4,0M1426.68,1101.62a2.2,2.2 0 1,0 4.4,0a2.2,2.2 0 1,0 -4.4,0M1426.68,1110.01a2.2,2.2 0 1,0 4.4,0a2.2,2.2 0 1,0 -4.4,0M1426.68,1135.58a2.2,2.2 0 1,0 4.4,0a2.2,2.2 0 1,0 -4.4,0M1440.48,1112.69a2.2,2.2 0 1,0 4.4,0a2.2,2.2 0 1,0 -4.4,0M1440.48,1118.41a2.2,2.2 0 1,0 4.4,0a2.2,2.2 0 1,0 -4.4,0M1440.48,1135.58a2.2,2.2 0 1,0 4.4,0a2.2,2.2 0 1,0 -4.4,0M1454.27,1114.59a2.2,2.2 0 1,0 4.4,0a2.2,2.2 0 1,0 -4.4,0M1454.27,1120.6a2.2,2.2 0 1,0 4.4,0a2.2,2.2 0 1,0 -4.4,0M1454.27,1139.4a2.2,2.2 0 1,0 4.4,0a2.2,2.2 0 1,0 -4.4,0M1468.06,1102.57a2.2,2.2 0 1,0 4.4,0a2.2,2.2 0 1,0 -4.4,0M1468.06,1117.93a2.2,2.2 0 1,0 4.4,0a2.2,2.2 0 1,0 -4.4,0M1468.06,1164.2a2.2,2.2 0 1,0 4.4,0a2.2,2.2 0 1,0 -4.4,0M1481.86,1135.58a2.2,2.2 0 1,0 4.4,0a2.2,2.2 0 1,0 -4.4,0M1481.86,1140.07a2.2,2.2 0 1,0 4.4,0a2.2,2.2 0 1,0 -4.4,0M1481.86,1153.52a2.2,2.2 0 1,0 4.4,0a2.2,2.2 0 1,0 -4.4,0M1495.65,1135.58a2.2,2.2 0 1,0 4.4,0a2.2,2.2 0 1,0 -4.4,0M1495.65,1143.02a2.2,2.2 0 1,0 4.4,0a2.2,2.2 0 1,0 -4.4,0M1495.65,1165.16a2.2,2.2 0 1,0 4.4,0a2.2,2.2 0 1,0 -4.4,0M1509.44,1129.48a2.2,2.2 0 1,0 4.4,0a2.2,2.2 0 1,0 -4.4,0M1509.44,1141.88a2.2,2.2 0 1,0 4.4,0a2.2,2.2 0 1,0 -4.4,0M1509.44,1179.28a2.2,2.2 0 1,0 4.4,0a2.2,2.2 0 1,0 -4.4,0M1523.24,1136.15a2.2,2.2 0 1,0 4.4,0a2.2,2.2 0 1,0 -4.4,0M1523.24,1147.79a2.2,2.2 0 1,0 4.4,0a2.2,2.2 0 1,0 -4.4,0M1523.24,1182.33a2.2,2.2 0 1,0 4.4,0a2.2,2.2 0 1,0 -4.4,0" fill="#000"/>
<path d="M118.55,1195.2v4.5M132.34,1195.2v4.5M146.14,1195.2v4.5M159.93,1195.2v4.5M173.72,1195.2v4.5M187.51,1195.2v4.5M201.31,1195.2v4.5M215.1,1195.2v4.5M228.89,1195.2v4.5M242.69,1195.2v4.5M256.48,1195.2v4.5M270.27,1195.2v4.5M284.07,1195.2v4.5M297.86,1195.2v4.5M311.65,1195.2v4.5M325.44,1195.2v4.5M339.24,1195.2v4.5M353.03,1195.2v4.5M366.82,1195.2v4.5M380.62,1195.2v4.5M394.41,1195.2v4.5M408.2,1195.2v4.5M422,1195.2v4.5M435.79,1195.2v4.5M449.58,1195.2v4.5M463.38,1195.2v4.5M477.17,1195.2v4.5M490.96,1195.2v4.5M504.75,1195.2v4.5M518.55,1195.2v4.5M532.34,1195.2v4.5M546.13,1195.2v4.5M559.93,1195.2v4.5M573.72,1195.2v4.5M587.51,1195.2v4.5M601.3,1195.2v4.5M615.1,1195.2v4.5M628.89,1195.2v4.5M642.68,1195.2v4.5M656.48,1195.2v4.5M670.27,1195.2v4.5M684.06,1195.2v4.5M697.86,1195.2v4.5M711.65,1195.2v4.5M725.44,1195.2v4.5M739.23,1195.2v4.5M753.03,1195.2v4.5M766.82,1195.2v4.5M780.61,1195.2v4.5M794.41,1195.2v4.5M808.2,1195.2v4.5M821.99,1195.2v4.5M835.79,1195.2v4.5M849.58,1195.2v4.5M863.37,1195.2v4.5M877.16,1195.2v4.5M890.96,1195.2v4.5M904.75,1195.2v4.5M918.54,1195.2v4.5M932.34,1195.2v4.5M946.13,1195.2v4.5M959.92,1195.2v4.5M973.72,1195.2v4.5M987.51,1195.2v4.5M1001.3,1195.2v4.5M1015.09,1195.2v4.5M1028.89,1195.2v4.5M1042.68,1195.2v4.5M1056.47,1195.2v4.5M1070.27,1195.2v4.5M1084.06,1195.2v4.5M1097.85,1195.2v4.5M1111.65,1195.2v4.5M1125.44,1195.2v4.5M1139.23,1195.2v4.5M1153.02,1195.2v4.5M1166.82,1195.2v4.5M1180.61,1195.2v4.5M1194.4,1195.2v4.5M1208.2,1195.2v4.5M1221.99,1195.2v4.5M1235.78,1195.2v4.5M1249.58,1195.2v4.5M1263.37,1195.2v4.5M1277.16,1195.2v4.5M1290.95,1195.2v4.5M1304.75,1195.2v4.5M1318.54,1195.2v4.5M1332.33,1195.2v4.5M1346.13,1195.2v4.5M1359.92,1195.2v4.5M1373.71,1195.2v4.5M1387.51,1195.2v4.5M1401.3,1195.2v4.5M1415.09,1195.2v4.5M1428.88,1195.2v4.5M1442.68,1195.2v4.5M1456.47,1195.2v4.5M1470.26,1195.2v4.5M1484.06,1195.2v4.5M1497.85,1195.2v4.5M1511.64,1195.2v4.5M1525.44,1195.2v4.5" stroke="#000" stroke-width="1.1"/>
<g font-size="14" text-anchor="end" fill="#111"><text transform="translate(123.15,1204) rotate(-90) scale(1.045,0.92)" x="0" y="0">WT</text><text transform="translate(136.94,1204) rotate(-90) scale(1.045,0.92)" x="0" y="0">Dspiramine</text><text transform="translate(150.74,1204) rotate(-90) scale(1.045,0.92)" x="0" y="0">Bupropion</text><text transform="translate(164.53,1204) rotate(-90) scale(1.045,0.92)" x="0" y="0">8018-3417</text><text transform="translate(178.32,1204) rotate(-90) scale(1.045,0.92)" x="0" y="0">Y021-4679</text><text transform="translate(192.11,1204) rotate(-90) scale(1.045,0.92)" x="0" y="0">4251-0519</text><text transform="translate(205.91,1204) rotate(-90) scale(1.045,0.92)" x="0" y="0">0086-0043</text><text transform="translate(219.7,1204) rotate(-90) scale(1.045,0.92)" x="0" y="0">Y510-9709</text><text transform="translate(233.49,1204) rotate(-90) scale(1.045,0.92)" x="0" y="0">8020-2752</text><text transform="translate(247.29,1204) rotate(-90) scale(1.045,0.92)" x="0" y="0">8020-0187</text><text transform="translate(261.08,1204) rotate(-90) scale(1.045,0.92)" x="0" y="0">V016-4756</text><text transform="translate(274.87,1204) rotate(-90) scale(1.045,0.92)" x="0" y="0">Y507-5998</text><text transform="translate(288.67,1204) rotate(-90) scale(1.045,0.92)" x="0" y="0">D665-1495</text><text transform="translate(302.46,1204) rotate(-90) scale(1.045,0.92)" x="0" y="0">8011-1949</text><text transform="translate(316.25,1204) rotate(-90) scale(1.045,0.92)" x="0" y="0">Y600-5055</text><text transform="translate(330.05,1204) rotate(-90) scale(1.045,0.92)" x="0" y="0">0083-0118</text><text transform="translate(343.84,1204) rotate(-90) scale(1.045,0.92)" x="0" y="0">4311-2656</text><text transform="translate(357.63,1204) rotate(-90) scale(1.045,0.92)" x="0" y="0">8015-3218</text><text transform="translate(371.42,1204) rotate(-90) scale(1.045,0.92)" x="0" y="0">0438-0410</text><text transform="translate(385.22,1204) rotate(-90) scale(1.045,0.92)" x="0" y="0">6718-0104</text><text transform="translate(399.01,1204) rotate(-90) scale(1.045,0.92)" x="0" y="0">8019-8927</text><text transform="translate(412.8,1204) rotate(-90) scale(1.045,0.92)" x="0" y="0">Y040-0395</text><text transform="translate(426.6,1204) rotate(-90) scale(1.045,0.92)" x="0" y="0">Y511-4437</text><text transform="translate(440.39,1204) rotate(-90) scale(1.045,0.92)" x="0" y="0">C200-3041</text><text transform="translate(454.18,1204) rotate(-90) scale(1.045,0.92)" x="0" y="0">4328-0025</text><text transform="translate(467.98,1204) rotate(-90) scale(1.045,0.92)" x="0" y="0">1073-0090</text><text transform="translate(481.77,1204) rotate(-90) scale(1.045,0.92)" x="0" y="0">8011-1130</text><text transform="translate(495.56,1204) rotate(-90) scale(1.045,0.92)" x="0" y="0">4636-0034</text><text transform="translate(509.35,1204) rotate(-90) scale(1.045,0.92)" x="0" y="0">Y513-1602</text><text transform="translate(523.15,1204) rotate(-90) scale(1.045,0.92)" x="0" y="0">H025-3112C</text><text transform="translate(536.94,1204) rotate(-90) scale(1.045,0.92)" x="0" y="0">Y505-4356</text><text transform="translate(550.73,1204) rotate(-90) scale(1.045,0.92)" x="0" y="0">D163-0558</text><text transform="translate(564.53,1204) rotate(-90) scale(1.045,0.92)" x="0" y="0">Y510-9224</text><text transform="translate(578.32,1204) rotate(-90) scale(1.045,0.92)" x="0" y="0">Y207-2365</text><text transform="translate(592.11,1204) rotate(-90) scale(1.045,0.92)" x="0" y="0">FF20-3205</text><text transform="translate(605.9,1204) rotate(-90) scale(1.045,0.92)" x="0" y="0">1773-0163</text><text transform="translate(619.7,1204) rotate(-90) scale(1.045,0.92)" x="0" y="0">Y508-6958</text><text transform="translate(633.49,1204) rotate(-90) scale(1.045,0.92)" x="0" y="0">8020-1832</text><text transform="translate(647.28,1204) rotate(-90) scale(1.045,0.92)" x="0" y="0">2922-0117</text><text transform="translate(661.08,1204) rotate(-90) scale(1.045,0.92)" x="0" y="0">8014-2580</text><text transform="translate(674.87,1204) rotate(-90) scale(1.045,0.92)" x="0" y="0">S738-0002</text><text transform="translate(688.66,1204) rotate(-90) scale(1.045,0.92)" x="0" y="0">D143-0030</text><text transform="translate(702.46,1204) rotate(-90) scale(1.045,0.92)" x="0" y="0">8007-0872</text><text transform="translate(716.25,1204) rotate(-90) scale(1.045,0.92)" x="0" y="0">8007-1131</text><text transform="translate(730.04,1204) rotate(-90) scale(1.045,0.92)" x="0" y="0">8012-9927</text><text transform="translate(743.83,1204) rotate(-90) scale(1.045,0.92)" x="0" y="0">0508-2036</text><text transform="translate(757.63,1204) rotate(-90) scale(1.045,0.92)" x="0" y="0">6930-0232</text><text transform="translate(771.42,1204) rotate(-90) scale(1.045,0.92)" x="0" y="0">Y041-3786</text><text transform="translate(785.21,1204) rotate(-90) scale(1.045,0.92)" x="0" y="0">Y507-5546</text><text transform="translate(799.01,1204) rotate(-90) scale(1.045,0.92)" x="0" y="0">Y200-6310</text><text transform="translate(812.8,1204) rotate(-90) scale(1.045,0.92)" x="0" y="0">8018-8463</text><text transform="translate(826.59,1204) rotate(-90) scale(1.045,0.92)" x="0" y="0">FF20-0287</text><text transform="translate(840.39,1204) rotate(-90) scale(1.045,0.92)" x="0" y="0">0549-0098</text><text transform="translate(854.18,1204) rotate(-90) scale(1.045,0.92)" x="0" y="0">3295-0018</text><text transform="translate(867.97,1204) rotate(-90) scale(1.045,0.92)" x="0" y="0">8014-1376</text><text transform="translate(881.76,1204) rotate(-90) scale(1.045,0.92)" x="0" y="0">5074-0060</text><text transform="translate(895.56,1204) rotate(-90) scale(1.045,0.92)" x="0" y="0">8019-8549</text><text transform="translate(909.35,1204) rotate(-90) scale(1.045,0.92)" x="0" y="0">8003-8051</text><text transform="translate(923.14,1204) rotate(-90) scale(1.045,0.92)" x="0" y="0">8004-9289</text><text transform="translate(936.94,1204) rotate(-90) scale(1.045,0.92)" x="0" y="0">Y509-1078</text><text transform="translate(950.73,1204) rotate(-90) scale(1.045,0.92)" x="0" y="0">8013-6221</text><text transform="translate(964.52,1204) rotate(-90) scale(1.045,0.92)" x="0" y="0">Y342-0096</text><text transform="translate(978.32,1204) rotate(-90) scale(1.045,0.92)" x="0" y="0">Y207-9165</text><text transform="translate(992.11,1204) rotate(-90) scale(1.045,0.92)" x="0" y="0">8013-4070</text><text transform="translate(1005.9,1204) rotate(-90) scale(1.045,0.92)" x="0" y="0">Y782-0078</text><text transform="translate(1019.69,1204) rotate(-90) scale(1.045,0.92)" x="0" y="0">Y507-3038</text><text transform="translate(1033.49,1204) rotate(-90) scale(1.045,0.92)" x="0" y="0">8020-6544</text><text transform="translate(1047.28,1204) rotate(-90) scale(1.045,0.92)" x="0" y="0">8016-9711</text><text transform="translate(1061.07,1204) rotate(-90) scale(1.045,0.92)" x="0" y="0">Y623-0459</text><text transform="translate(1074.87,1204) rotate(-90) scale(1.045,0.92)" x="0" y="0">8005-0169</text><text transform="translate(1088.66,1204) rotate(-90) scale(1.045,0.92)" x="0" y="0">Y510-2905</text><text transform="translate(1102.45,1204) rotate(-90) scale(1.045,0.92)" x="0" y="0">8018-6362</text><text transform="translate(1116.25,1204) rotate(-90) scale(1.045,0.92)" x="0" y="0">Y504-8871</text><text transform="translate(1130.04,1204) rotate(-90) scale(1.045,0.92)" x="0" y="0">8007-7342</text><text transform="translate(1143.83,1204) rotate(-90) scale(1.045,0.92)" x="0" y="0">8074-0057</text><text transform="translate(1157.62,1204) rotate(-90) scale(1.045,0.92)" x="0" y="0">J242-0429</text><text transform="translate(1171.42,1204) rotate(-90) scale(1.045,0.92)" x="0" y="0">D090-0100</text><text transform="translate(1185.21,1204) rotate(-90) scale(1.045,0.92)" x="0" y="0">0717-0922</text><text transform="translate(1199,1204) rotate(-90) scale(1.045,0.92)" x="0" y="0">2226-0405</text><text transform="translate(1212.8,1204) rotate(-90) scale(1.045,0.92)" x="0" y="0">0716-0001</text><text transform="translate(1226.59,1204) rotate(-90) scale(1.045,0.92)" x="0" y="0">Y021-9730</text><text transform="translate(1240.38,1204) rotate(-90) scale(1.045,0.92)" x="0" y="0">0118-0074</text><text transform="translate(1254.18,1204) rotate(-90) scale(1.045,0.92)" x="0" y="0">0646-0006</text><text transform="translate(1267.97,1204) rotate(-90) scale(1.045,0.92)" x="0" y="0">FF20-1363</text><text transform="translate(1281.76,1204) rotate(-90) scale(1.045,0.92)" x="0" y="0">K786-4772</text><text transform="translate(1295.55,1204) rotate(-90) scale(1.045,0.92)" x="0" y="0">8014-2706</text><text transform="translate(1309.35,1204) rotate(-90) scale(1.045,0.92)" x="0" y="0">8011-7538</text><text transform="translate(1323.14,1204) rotate(-90) scale(1.045,0.92)" x="0" y="0">8019-8657</text><text transform="translate(1336.93,1204) rotate(-90) scale(1.045,0.92)" x="0" y="0">D128-0001</text><text transform="translate(1350.73,1204) rotate(-90) scale(1.045,0.92)" x="0" y="0">5701-2405</text><text transform="translate(1364.52,1204) rotate(-90) scale(1.045,0.92)" x="0" y="0">Y600-4998</text><text transform="translate(1378.31,1204) rotate(-90) scale(1.045,0.92)" x="0" y="0">0083-0075</text><text transform="translate(1392.11,1204) rotate(-90) scale(1.045,0.92)" x="0" y="0">8019-8650</text><text transform="translate(1405.9,1204) rotate(-90) scale(1.045,0.92)" x="0" y="0">8006-8261</text><text transform="translate(1419.69,1204) rotate(-90) scale(1.045,0.92)" x="0" y="0">D635-0119</text><text transform="translate(1433.48,1204) rotate(-90) scale(1.045,0.92)" x="0" y="0">8018-4217</text><text transform="translate(1447.28,1204) rotate(-90) scale(1.045,0.92)" x="0" y="0">8015-7000</text><text transform="translate(1461.07,1204) rotate(-90) scale(1.045,0.92)" x="0" y="0">8010-4454</text><text transform="translate(1474.86,1204) rotate(-90) scale(1.045,0.92)" x="0" y="0">Y508-7188</text><text transform="translate(1488.66,1204) rotate(-90) scale(1.045,0.92)" x="0" y="0">8020-8101</text><text transform="translate(1502.45,1204) rotate(-90) scale(1.045,0.92)" x="0" y="0">8010-3312</text><text transform="translate(1516.24,1204) rotate(-90) scale(1.045,0.92)" x="0" y="0">3253-7959</text><text transform="translate(1530.04,1204) rotate(-90) scale(1.045,0.92)" x="0" y="0">8015-3437</text></g>
<text transform="translate(407.5,1333) scale(1.25,1)" x="0" y="0" font-size="33" font-weight="bold" fill="#000" stroke="#000" stroke-width="1.1" stroke-linejoin="miter">I</text>
<line x1="471.9" y1="1342.2" x2="471.9" y2="1564.5" stroke="#000" stroke-width="2.2" />
<line x1="470.9" y1="1563.5" x2="783.1" y2="1563.5" stroke="#000" stroke-width="2.2" />
<line x1="462.9" y1="1563.5" x2="471.9" y2="1563.5" stroke="#000" stroke-width="1.8" />
<text transform="translate(458.9,1568.7) scale(1.075,1)" x="0" y="0" font-size="14.5" text-anchor="end" font-weight="normal" fill="#222" >0</text>
<line x1="462.9" y1="1528.18" x2="471.9" y2="1528.18" stroke="#000" stroke-width="1.8" />
<text transform="translate(458.9,1533.38) scale(1.075,1)" x="0" y="0" font-size="14.5" text-anchor="end" font-weight="normal" fill="#222" >20</text>
<line x1="462.9" y1="1492.87" x2="471.9" y2="1492.87" stroke="#000" stroke-width="1.8" />
<text transform="translate(458.9,1498.07) scale(1.075,1)" x="0" y="0" font-size="14.5" text-anchor="end" font-weight="normal" fill="#222" >40</text>
<line x1="462.9" y1="1457.55" x2="471.9" y2="1457.55" stroke="#000" stroke-width="1.8" />
<text transform="translate(458.9,1462.75) scale(1.075,1)" x="0" y="0" font-size="14.5" text-anchor="end" font-weight="normal" fill="#222" >60</text>
<line x1="462.9" y1="1422.24" x2="471.9" y2="1422.24" stroke="#000" stroke-width="1.8" />
<text transform="translate(458.9,1427.44) scale(1.075,1)" x="0" y="0" font-size="14.5" text-anchor="end" font-weight="normal" fill="#222" >80</text>
<line x1="462.9" y1="1386.92" x2="471.9" y2="1386.92" stroke="#000" stroke-width="1.8" />
<text transform="translate(458.9,1392.12) scale(1.075,1)" x="0" y="0" font-size="14.5" text-anchor="end" font-weight="normal" fill="#222" >100</text>
<line x1="462.9" y1="1351.6" x2="471.9" y2="1351.6" stroke="#000" stroke-width="1.8" />
<text transform="translate(458.9,1356.8) scale(1.075,1)" x="0" y="0" font-size="14.5" text-anchor="end" font-weight="normal" fill="#222" >120</text>
<line x1="471.86" y1="1563.5" x2="471.86" y2="1572.5" stroke="#000" stroke-width="1.8" />
<text transform="translate(471.86,1590.2) scale(1.075,1)" x="0" y="0" font-size="14.5" text-anchor="middle" font-weight="normal" fill="#222" >-4</text>
<line x1="513.42" y1="1563.5" x2="513.42" y2="1572.5" stroke="#000" stroke-width="1.8" />
<text transform="translate(513.42,1590.2) scale(1.075,1)" x="0" y="0" font-size="14.5" text-anchor="middle" font-weight="normal" fill="#222" >-3</text>
<line x1="554.98" y1="1563.5" x2="554.98" y2="1572.5" stroke="#000" stroke-width="1.8" />
<text transform="translate(554.98,1590.2) scale(1.075,1)" x="0" y="0" font-size="14.5" text-anchor="middle" font-weight="normal" fill="#222" >-2</text>
<line x1="596.54" y1="1563.5" x2="596.54" y2="1572.5" stroke="#000" stroke-width="1.8" />
<text transform="translate(596.54,1590.2) scale(1.075,1)" x="0" y="0" font-size="14.5" text-anchor="middle" font-weight="normal" fill="#222" >-1</text>
<line x1="638.1" y1="1563.5" x2="638.1" y2="1572.5" stroke="#000" stroke-width="1.8" />
<text transform="translate(638.1,1590.2) scale(1.075,1)" x="0" y="0" font-size="14.5" text-anchor="middle" font-weight="normal" fill="#222" >0</text>
<line x1="679.66" y1="1563.5" x2="679.66" y2="1572.5" stroke="#000" stroke-width="1.8" />
<text transform="translate(679.66,1590.2) scale(1.075,1)" x="0" y="0" font-size="14.5" text-anchor="middle" font-weight="normal" fill="#222" >1</text>
<line x1="721.22" y1="1563.5" x2="721.22" y2="1572.5" stroke="#000" stroke-width="1.8" />
<text transform="translate(721.22,1590.2) scale(1.075,1)" x="0" y="0" font-size="14.5" text-anchor="middle" font-weight="normal" fill="#222" >2</text>
<line x1="762.78" y1="1563.5" x2="762.78" y2="1572.5" stroke="#000" stroke-width="1.8" />
<text transform="translate(762.78,1590.2) scale(1.075,1)" x="0" y="0" font-size="14.5" text-anchor="middle" font-weight="normal" fill="#222" >3</text>
<text transform="translate(638,1623.3) scale(1.03,1)" x="0" y="0" font-size="18.5" text-anchor="middle" font-weight="normal" fill="#222" >Log [0086-0043] μM</text>
<text transform="translate(415.4,1452.5) rotate(-90)" x="0" y="0" font-size="18.8" text-anchor="middle" dominant-baseline="central" fill="#111">Relative NE uptake (%)</text>
<polyline points="513.42,1386.94 515.29,1386.95 517.16,1386.95 519.03,1386.95 520.9,1386.96 522.77,1386.96 524.64,1386.97 526.51,1386.98 528.38,1386.99 530.25,1387 532.12,1387.01 533.99,1387.02 535.86,1387.03 537.73,1387.05 539.6,1387.07 541.47,1387.09 543.34,1387.11 545.21,1387.14 547.08,1387.17 548.95,1387.2 550.82,1387.24 552.69,1387.29 554.56,1387.34 556.43,1387.4 558.3,1387.46 560.17,1387.54 562.05,1387.63 563.92,1387.72 565.79,1387.84 567.66,1387.97 569.53,1388.11 571.4,1388.28 573.27,1388.47 575.14,1388.68 577.01,1388.93 578.88,1389.21 580.75,1389.52 582.62,1389.88 584.49,1390.29 586.36,1390.76 588.23,1391.28 590.1,1391.88 591.97,1392.55 593.84,1393.32 595.71,1394.18 597.58,1395.15 599.45,1396.25 601.32,1397.48 603.19,1398.87 605.06,1400.42 606.93,1402.16 608.8,1404.09 610.67,1406.24 612.54,1408.62 614.41,1411.26 616.28,1414.15 618.15,1417.32 620.02,1420.78 621.89,1424.53 623.76,1428.57 625.63,1432.9 627.5,1437.51 629.37,1442.39 631.24,1447.52 633.11,1452.86 634.98,1458.38 636.85,1464.04 638.72,1469.79 640.59,1475.6 642.46,1481.4 644.33,1487.14 646.2,1492.79 648.07,1498.29 649.94,1503.6 651.81,1508.69 653.69,1513.54 655.56,1518.12 657.43,1522.41 659.3,1526.41 661.17,1530.12 663.04,1533.54 664.91,1536.67 666.78,1539.53 668.65,1542.13 670.52,1544.48 672.39,1546.6 674.26,1548.51 676.13,1550.22 678,1551.75 679.87,1553.11 681.74,1554.32 683.61,1555.4 685.48,1556.36 687.35,1557.21 689.22,1557.96 691.09,1558.63 692.96,1559.21 694.83,1559.73 696.7,1560.19 698.57,1560.59 700.44,1560.94 702.31,1561.25 704.18,1561.53 706.05,1561.77 707.92,1561.98 709.79,1562.17 711.66,1562.33 713.53,1562.47 715.4,1562.6 717.27,1562.71 719.14,1562.81 721.01,1562.89 722.88,1562.97 724.75,1563.03 726.62,1563.09 728.49,1563.14 730.36,1563.18 732.23,1563.22 734.1,1563.26 735.97,1563.29 737.84,1563.31" fill="none" stroke="#1a1acf" stroke-width="2.6"/>
<path d="M513.42,1351.6V1408.11M508.42,1351.6h10M508.42,1408.11h10M538.36,1386.92V1408.11M533.36,1386.92h10M533.36,1408.11h10M563.29,1383.39V1429.3M558.29,1383.39h10M558.29,1429.3h10M588.23,1378.09V1413.41M583.23,1378.09h10M583.23,1413.41h10M613.16,1392.22V1413.41M608.16,1392.22h10M608.16,1413.41h10M638.1,1461.08V1478.74M633.1,1461.08h10M633.1,1478.74h10" stroke="#1a1acf" stroke-width="2.4" fill="none"/>
<circle cx="513.42" cy="1379.86" r="4.8" fill="#1515e0"/>
<circle cx="538.36" cy="1397.51" r="4.8" fill="#1515e0"/>
<circle cx="563.29" cy="1406.34" r="4.8" fill="#1515e0"/>
<circle cx="588.23" cy="1395.75" r="4.8" fill="#1515e0"/>
<circle cx="613.16" cy="1402.81" r="4.8" fill="#1515e0"/>
<circle cx="638.1" cy="1469.91" r="4.8" fill="#1515e0"/>
<circle cx="663.04" cy="1533.48" r="4.8" fill="#1515e0"/>
<circle cx="687.97" cy="1553.26" r="4.8" fill="#1515e0"/>
<circle cx="712.91" cy="1554.67" r="4.8" fill="#1515e0"/>
<circle cx="737.84" cy="1553.79" r="4.8" fill="#1515e0"/>
<text x="647" y="1398" font-size="21" fill="#111">IC<tspan font-size="12.5" dy="6">50</tspan><tspan dy="-6">= 1.14 μM</tspan></text>
<text transform="translate(1163.7,1332.37) scale(0.91,1)" x="0" y="0" font-size="31.5" font-weight="bold" fill="#000" stroke="#000" stroke-width="1.1" stroke-linejoin="miter">K</text>
<line x1="1230" y1="1338.3" x2="1230" y2="1564.5" stroke="#000" stroke-width="2.2" />
<line x1="1229" y1="1563.5" x2="1543" y2="1563.5" stroke="#000" stroke-width="2.2" />
<line x1="1221" y1="1563.5" x2="1230" y2="1563.5" stroke="#000" stroke-width="1.8" />
<text transform="translate(1217,1568.7) scale(1.075,1)" x="0" y="0" font-size="14.5" text-anchor="end" font-weight="normal" fill="#222" >0</text>
<line x1="1221" y1="1522.8" x2="1230" y2="1522.8" stroke="#000" stroke-width="1.8" />
<text transform="translate(1217,1528) scale(1.075,1)" x="0" y="0" font-size="14.5" text-anchor="end" font-weight="normal" fill="#222" >20</text>
<line x1="1221" y1="1482.1" x2="1230" y2="1482.1" stroke="#000" stroke-width="1.8" />
<text transform="translate(1217,1487.3) scale(1.075,1)" x="0" y="0" font-size="14.5" text-anchor="end" font-weight="normal" fill="#222" >40</text>
<line x1="1221" y1="1441.4" x2="1230" y2="1441.4" stroke="#000" stroke-width="1.8" />
<text transform="translate(1217,1446.6) scale(1.075,1)" x="0" y="0" font-size="14.5" text-anchor="end" font-weight="normal" fill="#222" >60</text>
<line x1="1221" y1="1400.7" x2="1230" y2="1400.7" stroke="#000" stroke-width="1.8" />
<text transform="translate(1217,1405.9) scale(1.075,1)" x="0" y="0" font-size="14.5" text-anchor="end" font-weight="normal" fill="#222" >80</text>
<line x1="1221" y1="1360" x2="1230" y2="1360" stroke="#000" stroke-width="1.8" />
<text transform="translate(1217,1365.2) scale(1.075,1)" x="0" y="0" font-size="14.5" text-anchor="end" font-weight="normal" fill="#222" >100</text>
<line x1="1230.1" y1="1563.5" x2="1230.1" y2="1572.5" stroke="#000" stroke-width="1.8" />
<text transform="translate(1230.1,1590.2) scale(1.075,1)" x="0" y="0" font-size="14.5" text-anchor="middle" font-weight="normal" fill="#222" >-4</text>
<line x1="1272" y1="1563.5" x2="1272" y2="1572.5" stroke="#000" stroke-width="1.8" />
<text transform="translate(1272,1590.2) scale(1.075,1)" x="0" y="0" font-size="14.5" text-anchor="middle" font-weight="normal" fill="#222" >-3</text>
<line x1="1313.9" y1="1563.5" x2="1313.9" y2="1572.5" stroke="#000" stroke-width="1.8" />
<text transform="translate(1313.9,1590.2) scale(1.075,1)" x="0" y="0" font-size="14.5" text-anchor="middle" font-weight="normal" fill="#222" >-2</text>
<line x1="1355.8" y1="1563.5" x2="1355.8" y2="1572.5" stroke="#000" stroke-width="1.8" />
<text transform="translate(1355.8,1590.2) scale(1.075,1)" x="0" y="0" font-size="14.5" text-anchor="middle" font-weight="normal" fill="#222" >-1</text>
<line x1="1397.7" y1="1563.5" x2="1397.7" y2="1572.5" stroke="#000" stroke-width="1.8" />
<text transform="translate(1397.7,1590.2) scale(1.075,1)" x="0" y="0" font-size="14.5" text-anchor="middle" font-weight="normal" fill="#222" >0</text>
<line x1="1439.6" y1="1563.5" x2="1439.6" y2="1572.5" stroke="#000" stroke-width="1.8" />
<text transform="translate(1439.6,1590.2) scale(1.075,1)" x="0" y="0" font-size="14.5" text-anchor="middle" font-weight="normal" fill="#222" >1</text>
<line x1="1481.5" y1="1563.5" x2="1481.5" y2="1572.5" stroke="#000" stroke-width="1.8" />
<text transform="translate(1481.5,1590.2) scale(1.075,1)" x="0" y="0" font-size="14.5" text-anchor="middle" font-weight="normal" fill="#222" >2</text>
<line x1="1523.4" y1="1563.5" x2="1523.4" y2="1572.5" stroke="#000" stroke-width="1.8" />
<text transform="translate(1523.4,1590.2) scale(1.075,1)" x="0" y="0" font-size="14.5" text-anchor="middle" font-weight="normal" fill="#222" >3</text>
<text transform="translate(1398,1623.3) scale(1.03,1)" x="0" y="0" font-size="18.5" text-anchor="middle" font-weight="normal" fill="#222" >Log [Y510-9709] μM</text>
<text transform="translate(1175.3,1452.5) rotate(-90)" x="0" y="0" font-size="18.8" text-anchor="middle" dominant-baseline="central" fill="#111">Relative NE uptake (%)</text>
<polyline points="1272,1368.33 1274.1,1368.86 1276.19,1369.41 1278.29,1369.99 1280.38,1370.61 1282.48,1371.27 1284.57,1371.96 1286.66,1372.69 1288.76,1373.47 1290.86,1374.29 1292.95,1375.15 1295.05,1376.06 1297.14,1377.03 1299.24,1378.04 1301.33,1379.11 1303.42,1380.23 1305.52,1381.42 1307.62,1382.66 1309.71,1383.97 1311.81,1385.34 1313.9,1386.78 1316,1388.29 1318.09,1389.86 1320.18,1391.51 1322.28,1393.24 1324.38,1395.04 1326.47,1396.91 1328.57,1398.86 1330.66,1400.89 1332.76,1403 1334.85,1405.19 1336.95,1407.45 1339.04,1409.8 1341.13,1412.22 1343.23,1414.71 1345.33,1417.28 1347.42,1419.92 1349.52,1422.63 1351.61,1425.41 1353.71,1428.25 1355.8,1431.16 1357.89,1434.11 1359.99,1437.12 1362.09,1440.18 1364.18,1443.27 1366.28,1446.4 1368.37,1449.57 1370.47,1452.75 1372.56,1455.96 1374.65,1459.17 1376.75,1462.39 1378.85,1465.61 1380.94,1468.83 1383.04,1472.02 1385.13,1475.2 1387.23,1478.35 1389.32,1481.47 1391.41,1484.55 1393.51,1487.59 1395.61,1490.58 1397.7,1493.51 1399.8,1496.39 1401.89,1499.21 1403.99,1501.96 1406.08,1504.64 1408.17,1507.26 1410.27,1509.8 1412.37,1512.26 1414.46,1514.65 1416.56,1516.96 1418.65,1519.2 1420.75,1521.35 1422.84,1523.43 1424.93,1525.43 1427.03,1527.35 1429.12,1529.19 1431.22,1530.96 1433.32,1532.66 1435.41,1534.28 1437.51,1535.83 1439.6,1537.3 1441.69,1538.72 1443.79,1540.06 1445.88,1541.34 1447.98,1542.56 1450.08,1543.72 1452.17,1544.82 1454.27,1545.87 1456.36,1546.86 1458.46,1547.81 1460.55,1548.7 1462.64,1549.55 1464.74,1550.35 1466.84,1551.1 1468.93,1551.82 1471.03,1552.5 1473.12,1553.14 1475.22,1553.74 1477.31,1554.32 1479.4,1554.86 1481.5,1555.37 1483.6,1555.85 1485.69,1556.3 1487.79,1556.73 1489.88,1557.13 1491.98,1557.51 1494.07,1557.87 1496.16,1558.2 1498.26,1558.52 1500.36,1558.82 1502.45,1559.1 1504.55,1559.36 1506.64,1559.61 1508.74,1559.85 1510.83,1560.07 1512.92,1560.27 1515.02,1560.47 1517.12,1560.65 1519.21,1560.83 1521.31,1560.99 1523.4,1561.14" fill="none" stroke="#1a1acf" stroke-width="2.6"/>
<path d="M1272,1375.26V1394.6M1267,1375.26h10M1267,1394.6h10M1297.14,1386.45V1392.56M1292.14,1386.45h10M1292.14,1392.56h10M1322.28,1382.38V1402.73M1317.28,1382.38h10M1317.28,1402.73h10M1347.42,1399.68V1420.03M1342.42,1399.68h10M1342.42,1420.03h10M1372.56,1439.37V1455.64M1367.56,1439.37h10M1367.56,1455.64h10" stroke="#1a1acf" stroke-width="2.4" fill="none"/>
<circle cx="1272" cy="1385.44" r="4.8" fill="#1515e0"/>
<circle cx="1297.14" cy="1389.51" r="4.8" fill="#1515e0"/>
<circle cx="1322.28" cy="1392.56" r="4.8" fill="#1515e0"/>
<circle cx="1347.42" cy="1409.86" r="4.8" fill="#1515e0"/>
<circle cx="1372.56" cy="1447.51" r="4.8" fill="#1515e0"/>
<circle cx="1397.7" cy="1492.28" r="4.8" fill="#1515e0"/>
<circle cx="1422.84" cy="1532.97" r="4.8" fill="#1515e0"/>
<circle cx="1447.98" cy="1551.29" r="4.8" fill="#1515e0"/>
<circle cx="1473.12" cy="1559.43" r="4.8" fill="#1515e0"/>
<circle cx="1498.26" cy="1559.43" r="4.8" fill="#1515e0"/>
<circle cx="1523.4" cy="1553.33" r="4.8" fill="#1515e0"/>
<text x="1400.5" y="1398" font-size="21" fill="#111">IC<tspan font-size="12.5" dy="6">50</tspan><tspan dy="-6">= 0.31 μM</tspan></text>
<text transform="translate(1101,478.99) scale(0.84,1)" x="0" y="0" font-size="35.6" font-weight="bold" fill="#000" stroke="#000" stroke-width="1.1" stroke-linejoin="miter">F</text>
<text transform="translate(1338.5,480.7) scale(0.96,1)" x="0" y="0" font-size="28" text-anchor="middle" font-weight="bold" fill="#222">Screening scaling</text>
<defs><linearGradient id="og" x1="0" y1="0" x2="1" y2="0"><stop offset="0" stop-color="#fbd3b4"/><stop offset="1" stop-color="#f3a688"/></linearGradient><linearGradient id="tg" x1="0" y1="1" x2="0" y2="0"><stop offset="0" stop-color="#aef0e0"/><stop offset="1" stop-color="#8ff5dc"/></linearGradient><marker id="ah" viewBox="0 0 10 10" refX="9" refY="5" markerWidth="7" markerHeight="7" orient="auto-start-reverse" markerUnits="userSpaceOnUse"></marker></defs>
<rect x="1141" y="511" width="408" height="381" fill="#fbfbfb"/>
<polygon points="1182,572.5 1359.8,543.8 1359.8,727 1184.7,787.2" fill="#f1f1f2"/>
<polygon points="1359.8,543.8 1497.9,605.3 1491.9,833.7 1359.8,727" fill="#ededee"/>
<polygon points="1184.7,787.2 1359.8,727 1491.9,833.7 1307.2,878.1" fill="#f2f2f2"/>
<polyline points="1182,572.5 1359.8,543.8 1497.9,605.3" fill="none" stroke="#f8f8f8" stroke-width="1.5"/>
<line x1="1359.8" y1="543.8" x2="1359.8" y2="727" stroke="#e2e2e2" stroke-width="1"/>
<polygon points="1184.7,787.2 1359.8,727 1491,776.3 1307.2,846.6" fill="url(#og)" fill-opacity="0.92"/>
<polygon points="1184.7,787.2 1200,778 1215,767 1230,753 1245,737 1258,720 1270,703 1281,684 1291,663 1301,640 1311,614 1320.4,588.1 1328.5,580.8 1381.6,557.1 1360.3,686.8" fill="#7fffd4" fill-opacity="0.42"/>
<polygon points="1184.7,787.2 1200,778 1215,767 1230,753 1245,737 1258,720 1270,703 1281,684 1291,663 1301,640 1311,614 1320.4,588.1 1320.4,608.5 1340,637.9 1307.3,799.4" fill="#7fffd4" fill-opacity="0.42"/>
<polyline points="1184.7,787.2 1200,778 1215,767 1230,753 1245,737 1258,720 1270,703 1281,684 1291,663 1301,640 1311,614 1320.4,588.1" fill="none" stroke="#4fb394" stroke-width="2.6"/>
<line x1="1184.7" y1="787.2" x2="1491" y2="776.3" stroke="#f0855a" stroke-width="2"/>
<line x1="1184.7" y1="788.2" x2="1182.23" y2="590.5" stroke="#000" stroke-width="3"/>
<polygon points="1182,572.5 1188.75,592.42 1175.75,592.58" fill="#000"/>
<line x1="1184.7" y1="787.2" x2="1292.74" y2="867.37" stroke="#000" stroke-width="3"/>
<polygon points="1307.2,878.1 1287.27,871.4 1295.01,860.96" fill="#000"/>
<line x1="1307.2" y1="878.1" x2="1474.4" y2="837.91" stroke="#000" stroke-width="3"/>
<polygon points="1491.9,833.7 1473.97,844.69 1470.93,832.05" fill="#000"/>
<rect x="1156" y="514.2" width="34.2" height="15.3" fill="#fbc3ab"/>
<line x1="1151.9" y1="521.9" x2="1194.3" y2="521.9" stroke="#ec8b66" stroke-width="2"/>
<rect x="1333.8" y="514.2" width="34.2" height="15.3" fill="#9ff2dd"/>
<line x1="1329.7" y1="521.9" x2="1372.2" y2="521.9" stroke="#4fb394" stroke-width="2"/>
<text transform="translate(1208.5,529.5) scale(1.02,1)" x="0" y="0" font-size="20.5" text-anchor="start" font-weight="normal" fill="#111" >DrugCLIP</text>
<text transform="translate(1380.5,529.5) scale(1.02,1)" x="0" y="0" font-size="20.5" text-anchor="start" font-weight="normal" fill="#111" >Other Methods</text>
<text transform="translate(1115.5,679.4) scale(1.03,1)" x="0" y="0" font-size="20" text-anchor="start" font-weight="normal" fill="#111" >Time</text>
<text transform="translate(1127,787) rotate(37)" x="0" y="0" font-size="20.5" fill="#111">Number of targets</text>
<text transform="translate(1290.5,920) rotate(-13.5) scale(1.02,1)" x="0" y="0" font-size="20.5" fill="#111">Size of chemical library</text>
<rect x="29" y="1366" width="134" height="207" fill="#fdfdfd"/>
<rect x="787.6" y="1364" width="124.7" height="211" fill="#fdfdfd"/>
<rect x="178" y="1296" width="212" height="332" fill="#fdfdfd"/>
<rect x="908" y="1266" width="244" height="364" fill="#fefefe"/>
<text transform="translate(23.3,1333.05) scale(1.0,1)" x="0" y="0" font-size="33.5" font-weight="bold" fill="#000" stroke="#000" stroke-width="1.1" stroke-linejoin="miter">H</text>
<text transform="translate(802.5,1333.9) scale(0.98,1)" x="0" y="0" font-size="33" font-weight="bold" fill="#000" stroke="#000" stroke-width="1.1" stroke-linejoin="miter">J</text>
<g transform="translate(0,0)">
<path d="M58,1462 C62,1440 80,1425 95,1415 C110,1410 125,1425 140,1440 C142,1470 140,1500 128,1520 C110,1535 90,1540 70,1535 C60,1510 56,1490 58,1462 Z" fill="#79b3e6"/>
<path d="M56.9,1409.2 L64.9,1409.2 L78.2,1401.2 L91.5,1402.6 L99.5,1402.6 L104.8,1406.5" fill="none" stroke="#3a7fc0" stroke-width="2.2" stroke-linecap="round" stroke-linejoin="round"/>
<path d="M126.1,1418.5 L131.4,1418.5 L140.7,1417.2 L152.7,1417.2 L158.0,1423.8 L152.7,1439.8" fill="none" stroke="#3a7fc0" stroke-width="2.2" stroke-linecap="round" stroke-linejoin="round"/>
<path d="M120.7,1398.6 L130.1,1399.9 L130.1,1415.9 L126.1,1418.5" fill="none" stroke="#3a7fc0" stroke-width="2.2" stroke-linecap="round" stroke-linejoin="round"/>
<path d="M104.8,1383.9 Q108.8,1390.6 118.1,1393.2" fill="none" stroke="#3a7fc0" stroke-width="2.2" stroke-linecap="round" stroke-linejoin="round"/>
<path d="M135.4,1535.5 L146.0,1536.9" fill="none" stroke="#3a7fc0" stroke-width="2.2" stroke-linecap="round" stroke-linejoin="round"/>
<path d="M95.5,1532.9 Q104.8,1536.9 110.1,1527.6" fill="none" stroke="#3a7fc0" stroke-width="2.2" stroke-linecap="round" stroke-linejoin="round"/>
<path d="M42.3,1453.1 L51.6,1450.4 L58.2,1438.5 L67.6,1434.5" fill="none" stroke="#3a7fc0" stroke-width="2.2" stroke-linecap="round" stroke-linejoin="round"/>
<path d="M71.5,1461.1 Q68.9,1486.3 82.2,1519.6" fill="none" stroke="#3f86c8" stroke-width="11.9" stroke-linecap="round" stroke-linejoin="round"/>
<path d="M71.5,1461.1 Q68.9,1486.3 82.2,1519.6" fill="none" stroke="#5aa2e2" stroke-width="10.5" stroke-linecap="round" stroke-linejoin="round"/>
<path d="M70.2,1474.4 L104.8,1487.7" fill="none" stroke="#3f86c8" stroke-width="11.4" stroke-linecap="round" stroke-linejoin="round"/>
<path d="M70.2,1474.4 L104.8,1487.7" fill="none" stroke="#5aa2e2" stroke-width="10" stroke-linecap="round" stroke-linejoin="round"/>
<path d="M99.5,1499.6 L107.4,1522.2" fill="none" stroke="#3f86c8" stroke-width="11.9" stroke-linecap="round" stroke-linejoin="round"/>
<path d="M99.5,1499.6 L107.4,1522.2" fill="none" stroke="#5aa2e2" stroke-width="10.5" stroke-linecap="round" stroke-linejoin="round"/>
<path d="M138.0,1445.1 L134.0,1483.7" fill="none" stroke="#3f86c8" stroke-width="11.9" stroke-linecap="round" stroke-linejoin="round"/>
<path d="M138.0,1445.1 L134.0,1483.7" fill="none" stroke="#5aa2e2" stroke-width="10.5" stroke-linecap="round" stroke-linejoin="round"/>
<path d="M118.1,1450.4 L152.7,1438.5" fill="none" stroke="#3f86c8" stroke-width="13.4" stroke-linecap="round" stroke-linejoin="round"/>
<path d="M118.1,1450.4 L152.7,1438.5" fill="none" stroke="#5aa2e2" stroke-width="12" stroke-linecap="round" stroke-linejoin="round"/>
<path d="M104.8,1442.4 L134.0,1429.1" fill="none" stroke="#3f86c8" stroke-width="13.4" stroke-linecap="round" stroke-linejoin="round"/>
<path d="M104.8,1442.4 L134.0,1429.1" fill="none" stroke="#5aa2e2" stroke-width="12" stroke-linecap="round" stroke-linejoin="round"/>
<path d="M67.6,1419.8 L82.2,1426.5" fill="none" stroke="#3f86c8" stroke-width="13.4" stroke-linecap="round" stroke-linejoin="round"/>
<path d="M67.6,1419.8 L82.2,1426.5" fill="none" stroke="#5aa2e2" stroke-width="12" stroke-linecap="round" stroke-linejoin="round"/>
<path d="M107.4,1411.9 L118.1,1422.5" fill="none" stroke="#3f86c8" stroke-width="14.4" stroke-linecap="round" stroke-linejoin="round"/>
<path d="M107.4,1411.9 L118.1,1422.5" fill="none" stroke="#5aa2e2" stroke-width="13" stroke-linecap="round" stroke-linejoin="round"/>
<path d="M116.8,1385.3 L122.1,1390.6" fill="none" stroke="#3f86c8" stroke-width="11.9" stroke-linecap="round" stroke-linejoin="round"/>
<path d="M116.8,1385.3 L122.1,1390.6" fill="none" stroke="#5aa2e2" stroke-width="10.5" stroke-linecap="round" stroke-linejoin="round"/>
<path d="M104.8,1447.8 Q120.7,1466.4 126.1,1485.0" fill="none" stroke="#3f86c8" stroke-width="14.4" stroke-linecap="round" stroke-linejoin="round"/>
<path d="M104.8,1447.8 Q120.7,1466.4 126.1,1485.0" fill="none" stroke="#5aa2e2" stroke-width="13" stroke-linecap="round" stroke-linejoin="round"/>
<path d="M128.7,1506.3 L146.0,1494.3" fill="none" stroke="#3f86c8" stroke-width="15.9" stroke-linecap="round" stroke-linejoin="round"/>
<path d="M128.7,1506.3 L146.0,1494.3" fill="none" stroke="#5aa2e2" stroke-width="14.5" stroke-linecap="round" stroke-linejoin="round"/>
<path d="M106.1,1497.0 L134.0,1534.2" fill="none" stroke="#3f86c8" stroke-width="13.4" stroke-linecap="round" stroke-linejoin="round"/>
<path d="M106.1,1497.0 L134.0,1534.2" fill="none" stroke="#5aa2e2" stroke-width="12" stroke-linecap="round" stroke-linejoin="round"/>
<path d="M44.9,1461.1 Q42.3,1493.0 55.6,1536.9" fill="none" stroke="#3f86c8" stroke-width="11.9" stroke-linecap="round" stroke-linejoin="round"/>
<path d="M44.9,1461.1 Q42.3,1493.0 55.6,1536.9" fill="none" stroke="#5aa2e2" stroke-width="10.5" stroke-linecap="round" stroke-linejoin="round"/>
<path d="M58.2,1458.4 Q56.9,1499.6 84.8,1556.8" fill="none" stroke="#3f86c8" stroke-width="13.4" stroke-linecap="round" stroke-linejoin="round"/>
<path d="M58.2,1458.4 Q56.9,1499.6 84.8,1556.8" fill="none" stroke="#5aa2e2" stroke-width="12" stroke-linecap="round" stroke-linejoin="round"/>
<path d="M58.2,1458.4 L88.8,1434.5" fill="none" stroke="#3f86c8" stroke-width="14.4" stroke-linecap="round" stroke-linejoin="round"/>
<path d="M58.2,1458.4 L88.8,1434.5" fill="none" stroke="#5aa2e2" stroke-width="13" stroke-linecap="round" stroke-linejoin="round"/>
<path d="M95.5,1410.5 Q90.2,1479.7 91.5,1532.9" fill="none" stroke="#3f86c8" stroke-width="14.4" stroke-linecap="round" stroke-linejoin="round"/>
<path d="M95.5,1410.5 Q90.2,1479.7 91.5,1532.9" fill="none" stroke="#5aa2e2" stroke-width="13" stroke-linecap="round" stroke-linejoin="round"/>
<circle cx="36.3" cy="1454.4" r="6.2" fill="#5aa2e2" stroke="#3a7fc0" stroke-width="1.2"/>
<circle cx="41.0" cy="1532.9" r="5.5" fill="#5aa2e2" stroke="#3a7fc0" stroke-width="1.2"/>
<path d="M97.8,1480.7 l5,-2 l3,6 l-2,6 l-5,1 z" fill="none" stroke="#e0a020" stroke-width="1.6"/>
</g>
<g transform="translate(760.3,0)">
<path d="M58,1462 C62,1440 80,1425 95,1415 C110,1410 125,1425 140,1440 C142,1470 140,1500 128,1520 C110,1535 90,1540 70,1535 C60,1510 56,1490 58,1462 Z" fill="#79b3e6"/>
<path d="M56.9,1409.2 L64.9,1409.2 L78.2,1401.2 L91.5,1402.6 L99.5,1402.6 L104.8,1406.5" fill="none" stroke="#3a7fc0" stroke-width="2.2" stroke-linecap="round" stroke-linejoin="round"/>
<path d="M126.1,1418.5 L131.4,1418.5 L140.7,1417.2 L152.7,1417.2 L158.0,1423.8 L152.7,1439.8" fill="none" stroke="#3a7fc0" stroke-width="2.2" stroke-linecap="round" stroke-linejoin="round"/>
<path d="M120.7,1398.6 L130.1,1399.9 L130.1,1415.9 L126.1,1418.5" fill="none" stroke="#3a7fc0" stroke-width="2.2" stroke-linecap="round" stroke-linejoin="round"/>
<path d="M104.8,1383.9 Q108.8,1390.6 118.1,1393.2" fill="none" stroke="#3a7fc0" stroke-width="2.2" stroke-linecap="round" stroke-linejoin="round"/>
<path d="M135.4,1535.5 L146.0,1536.9" fill="none" stroke="#3a7fc0" stroke-width="2.2" stroke-linecap="round" stroke-linejoin="round"/>
<path d="M95.5,1532.9 Q104.8,1536.9 110.1,1527.6" fill="none" stroke="#3a7fc0" stroke-width="2.2" stroke-linecap="round" stroke-linejoin="round"/>
<path d="M42.3,1453.1 L51.6,1450.4 L58.2,1438.5 L67.6,1434.5" fill="none" stroke="#3a7fc0" stroke-width="2.2" stroke-linecap="round" stroke-linejoin="round"/>
<path d="M71.5,1461.1 Q68.9,1486.3 82.2,1519.6" fill="none" stroke="#3f86c8" stroke-width="11.9" stroke-linecap="round" stroke-linejoin="round"/>
<path d="M71.5,1461.1 Q68.9,1486.3 82.2,1519.6" fill="none" stroke="#5aa2e2" stroke-width="10.5" stroke-linecap="round" stroke-linejoin="round"/>
<path d="M70.2,1474.4 L104.8,1487.7" fill="none" stroke="#3f86c8" stroke-width="11.4" stroke-linecap="round" stroke-linejoin="round"/>
<path d="M70.2,1474.4 L104.8,1487.7" fill="none" stroke="#5aa2e2" stroke-width="10" stroke-linecap="round" stroke-linejoin="round"/>
<path d="M99.5,1499.6 L107.4,1522.2" fill="none" stroke="#3f86c8" stroke-width="11.9" stroke-linecap="round" stroke-linejoin="round"/>
<path d="M99.5,1499.6 L107.4,1522.2" fill="none" stroke="#5aa2e2" stroke-width="10.5" stroke-linecap="round" stroke-linejoin="round"/>
<path d="M138.0,1445.1 L134.0,1483.7" fill="none" stroke="#3f86c8" stroke-width="11.9" stroke-linecap="round" stroke-linejoin="round"/>
<path d="M138.0,1445.1 L134.0,1483.7" fill="none" stroke="#5aa2e2" stroke-width="10.5" stroke-linecap="round" stroke-linejoin="round"/>
<path d="M118.1,1450.4 L152.7,1438.5" fill="none" stroke="#3f86c8" stroke-width="13.4" stroke-linecap="round" stroke-linejoin="round"/>
<path d="M118.1,1450.4 L152.7,1438.5" fill="none" stroke="#5aa2e2" stroke-width="12" stroke-linecap="round" stroke-linejoin="round"/>
<path d="M104.8,1442.4 L134.0,1429.1" fill="none" stroke="#3f86c8" stroke-width="13.4" stroke-linecap="round" stroke-linejoin="round"/>
<path d="M104.8,1442.4 L134.0,1429.1" fill="none" stroke="#5aa2e2" stroke-width="12" stroke-linecap="round" stroke-linejoin="round"/>
<path d="M67.6,1419.8 L82.2,1426.5" fill="none" stroke="#3f86c8" stroke-width="13.4" stroke-linecap="round" stroke-linejoin="round"/>
<path d="M67.6,1419.8 L82.2,1426.5" fill="none" stroke="#5aa2e2" stroke-width="12" stroke-linecap="round" stroke-linejoin="round"/>
<path d="M107.4,1411.9 L118.1,1422.5" fill="none" stroke="#3f86c8" stroke-width="14.4" stroke-linecap="round" stroke-linejoin="round"/>
<path d="M107.4,1411.9 L118.1,1422.5" fill="none" stroke="#5aa2e2" stroke-width="13" stroke-linecap="round" stroke-linejoin="round"/>
<path d="M116.8,1385.3 L122.1,1390.6" fill="none" stroke="#3f86c8" stroke-width="11.9" stroke-linecap="round" stroke-linejoin="round"/>
<path d="M116.8,1385.3 L122.1,1390.6" fill="none" stroke="#5aa2e2" stroke-width="10.5" stroke-linecap="round" stroke-linejoin="round"/>
<path d="M104.8,1447.8 Q120.7,1466.4 126.1,1485.0" fill="none" stroke="#3f86c8" stroke-width="14.4" stroke-linecap="round" stroke-linejoin="round"/>
<path d="M104.8,1447.8 Q120.7,1466.4 126.1,1485.0" fill="none" stroke="#5aa2e2" stroke-width="13" stroke-linecap="round" stroke-linejoin="round"/>
<path d="M128.7,1506.3 L146.0,1494.3" fill="none" stroke="#3f86c8" stroke-width="15.9" stroke-linecap="round" stroke-linejoin="round"/>
<path d="M128.7,1506.3 L146.0,1494.3" fill="none" stroke="#5aa2e2" stroke-width="14.5" stroke-linecap="round" stroke-linejoin="round"/>
<path d="M106.1,1497.0 L134.0,1534.2" fill="none" stroke="#3f86c8" stroke-width="13.4" stroke-linecap="round" stroke-linejoin="round"/>
<path d="M106.1,1497.0 L134.0,1534.2" fill="none" stroke="#5aa2e2" stroke-width="12" stroke-linecap="round" stroke-linejoin="round"/>
<path d="M44.9,1461.1 Q42.3,1493.0 55.6,1536.9" fill="none" stroke="#3f86c8" stroke-width="11.9" stroke-linecap="round" stroke-linejoin="round"/>
<path d="M44.9,1461.1 Q42.3,1493.0 55.6,1536.9" fill="none" stroke="#5aa2e2" stroke-width="10.5" stroke-linecap="round" stroke-linejoin="round"/>
<path d="M58.2,1458.4 Q56.9,1499.6 84.8,1556.8" fill="none" stroke="#3f86c8" stroke-width="13.4" stroke-linecap="round" stroke-linejoin="round"/>
<path d="M58.2,1458.4 Q56.9,1499.6 84.8,1556.8" fill="none" stroke="#5aa2e2" stroke-width="12" stroke-linecap="round" stroke-linejoin="round"/>
<path d="M58.2,1458.4 L88.8,1434.5" fill="none" stroke="#3f86c8" stroke-width="14.4" stroke-linecap="round" stroke-linejoin="round"/>
<path d="M58.2,1458.4 L88.8,1434.5" fill="none" stroke="#5aa2e2" stroke-width="13" stroke-linecap="round" stroke-linejoin="round"/>
<path d="M95.5,1410.5 Q90.2,1479.7 91.5,1532.9" fill="none" stroke="#3f86c8" stroke-width="14.4" stroke-linecap="round" stroke-linejoin="round"/>
<path d="M95.5,1410.5 Q90.2,1479.7 91.5,1532.9" fill="none" stroke="#5aa2e2" stroke-width="13" stroke-linecap="round" stroke-linejoin="round"/>
<circle cx="36.3" cy="1454.4" r="6.2" fill="#5aa2e2" stroke="#3a7fc0" stroke-width="1.2"/>
<circle cx="41.0" cy="1532.9" r="5.5" fill="#5aa2e2" stroke="#3a7fc0" stroke-width="1.2"/>
<path d="M97.8,1480.7 l5,-2 l3,6 l-2,6 l-5,1 z" fill="none" stroke="#e0a020" stroke-width="1.6"/>
</g>
<text transform="translate(47,1592.5) scale(1.075,1)" x="0" y="0" font-size="20.5" text-anchor="start" font-weight="normal" fill="#111" >cryo-EM</text>
<text transform="translate(807.5,1591.9) scale(1.075,1)" x="0" y="0" font-size="20.5" text-anchor="start" font-weight="normal" fill="#111" >cryo-EM</text>
<path d="M273.7,1480.4 C254.6,1472.0 239.8,1457.2 229.2,1459.3 C218.7,1465.6 218.7,1484.7 233.5,1491.0" fill="none" stroke="#2d6ea8" stroke-width="5" stroke-linecap="round"/>
<path d="M273.7,1480.4 C254.6,1472.0 239.8,1457.2 229.2,1459.3 C218.7,1465.6 218.7,1484.7 233.5,1491.0" fill="none" stroke="#5ba3e3" stroke-width="3.4" stroke-linecap="round"/>
<path d="M284.3,1429.7 C269.4,1444.5 250.4,1444.5 241.9,1433.9 C239.8,1438.1 237.7,1442.3 237.7,1446.6" fill="none" stroke="#2d6ea8" stroke-width="5" stroke-linecap="round"/>
<path d="M284.3,1429.7 C269.4,1444.5 250.4,1444.5 241.9,1433.9 C239.8,1438.1 237.7,1442.3 237.7,1446.6" fill="none" stroke="#5ba3e3" stroke-width="3.4" stroke-linecap="round"/>
<path d="M356.2,1501.6 C366.8,1522.8 368.9,1548.1 335.0,1565.1" fill="none" stroke="#2d6ea8" stroke-width="5" stroke-linecap="round"/>
<path d="M356.2,1501.6 C366.8,1522.8 368.9,1548.1 335.0,1565.1" fill="none" stroke="#5ba3e3" stroke-width="3.4" stroke-linecap="round"/>
<path d="M284.3,1558.7 C297.0,1573.5 316.0,1579.9 326.6,1565.1" fill="none" stroke="#2d6ea8" stroke-width="5" stroke-linecap="round"/>
<path d="M284.3,1558.7 C297.0,1573.5 316.0,1579.9 326.6,1565.1" fill="none" stroke="#5ba3e3" stroke-width="3.4" stroke-linecap="round"/>
<path d="M330.8,1427.5 C339.3,1438.1 330.8,1455.0 339.3,1463.5" fill="none" stroke="#2d6ea8" stroke-width="5" stroke-linecap="round"/>
<path d="M330.8,1427.5 C339.3,1438.1 330.8,1455.0 339.3,1463.5" fill="none" stroke="#5ba3e3" stroke-width="3.4" stroke-linecap="round"/>
<path d="M189.0,1573.5 C195.4,1582.0 201.7,1586.2 208.1,1588.3" fill="none" stroke="#2d6ea8" stroke-width="5" stroke-linecap="round"/>
<path d="M189.0,1573.5 C195.4,1582.0 201.7,1586.2 208.1,1588.3" fill="none" stroke="#5ba3e3" stroke-width="3.4" stroke-linecap="round"/>
<path d="M263.1,1374.6 C233.5,1378.9 229.2,1338.7 250.4,1323.9 C271.6,1315.4 297.0,1323.9 294.8,1345.0 C292.7,1359.8 288.5,1366.2 284.3,1368.3" fill="none" stroke="#2d6ea8" stroke-width="13.6" stroke-linecap="butt" stroke-linejoin="round"/>
<path d="M263.1,1374.6 C233.5,1378.9 229.2,1338.7 250.4,1323.9 C271.6,1315.4 297.0,1323.9 294.8,1345.0 C292.7,1359.8 288.5,1366.2 284.3,1368.3" fill="none" stroke="#5ba3e3" stroke-width="12" stroke-linecap="butt" stroke-linejoin="round"/>
<path d="M294.8,1332.3 C305.4,1315.4 330.8,1313.3 352.0,1336.6" fill="none" stroke="#2d6ea8" stroke-width="12.6" stroke-linecap="butt" stroke-linejoin="round"/>
<path d="M294.8,1332.3 C305.4,1315.4 330.8,1313.3 352.0,1336.6" fill="none" stroke="#5ba3e3" stroke-width="11" stroke-linecap="butt" stroke-linejoin="round"/>
<path d="M199.6,1402.1 C208.1,1383.1 250.4,1381.0 261.0,1412.7 C263.1,1421.2 261.0,1425.4 258.9,1427.5" fill="none" stroke="#2d6ea8" stroke-width="13.6" stroke-linecap="butt" stroke-linejoin="round"/>
<path d="M199.6,1402.1 C208.1,1383.1 250.4,1381.0 261.0,1412.7 C263.1,1421.2 261.0,1425.4 258.9,1427.5" fill="none" stroke="#5ba3e3" stroke-width="12" stroke-linecap="butt" stroke-linejoin="round"/>
<path d="M201.7,1400.0 C199.6,1408.5 201.7,1419.1 203.9,1427.5" fill="none" stroke="#2d6ea8" stroke-width="11.6" stroke-linecap="butt" stroke-linejoin="round"/>
<path d="M201.7,1400.0 C199.6,1408.5 201.7,1419.1 203.9,1427.5" fill="none" stroke="#5ba3e3" stroke-width="10" stroke-linecap="butt" stroke-linejoin="round"/>
<path d="M294.8,1404.3 C305.4,1387.3 337.2,1383.1 345.6,1408.5 C345.6,1419.1 341.4,1429.7 337.2,1436.0" fill="none" stroke="#2d6ea8" stroke-width="11.6" stroke-linecap="butt" stroke-linejoin="round"/>
<path d="M294.8,1404.3 C305.4,1387.3 337.2,1383.1 345.6,1408.5 C345.6,1419.1 341.4,1429.7 337.2,1436.0" fill="none" stroke="#5ba3e3" stroke-width="10" stroke-linecap="butt" stroke-linejoin="round"/>
<path d="M343.5,1410.6 C356.2,1408.5 364.7,1410.6 371.0,1412.7" fill="none" stroke="#2d6ea8" stroke-width="9.6" stroke-linecap="butt" stroke-linejoin="round"/>
<path d="M343.5,1410.6 C356.2,1408.5 364.7,1410.6 371.0,1412.7" fill="none" stroke="#5ba3e3" stroke-width="8" stroke-linecap="butt" stroke-linejoin="round"/>
<path d="M250.4,1486.8 C246.2,1510.1 203.9,1501.6 197.5,1518.5 C201.7,1533.3 233.5,1520.6 233.5,1541.8 C229.2,1554.5 186.9,1550.3 180.6,1567.2 C186.9,1575.7 191.2,1575.7 193.3,1579.9" fill="none" stroke="#2d6ea8" stroke-width="13.6" stroke-linecap="butt" stroke-linejoin="round"/>
<path d="M250.4,1486.8 C246.2,1510.1 203.9,1501.6 197.5,1518.5 C201.7,1533.3 233.5,1520.6 233.5,1541.8 C229.2,1554.5 186.9,1550.3 180.6,1567.2 C186.9,1575.7 191.2,1575.7 193.3,1579.9" fill="none" stroke="#5ba3e3" stroke-width="12" stroke-linecap="butt" stroke-linejoin="round"/>
<path d="M318.1,1486.8 C330.8,1476.2 360.4,1478.3 371.0,1493.1 C368.9,1503.7 339.3,1512.2 322.3,1510.1" fill="none" stroke="#2d6ea8" stroke-width="12.6" stroke-linecap="butt" stroke-linejoin="round"/>
<path d="M318.1,1486.8 C330.8,1476.2 360.4,1478.3 371.0,1493.1 C368.9,1503.7 339.3,1512.2 322.3,1510.1" fill="none" stroke="#5ba3e3" stroke-width="11" stroke-linecap="butt" stroke-linejoin="round"/>
<path d="M326.6,1560.8 C352.0,1571.4 373.1,1586.2 371.0,1603.2 C368.9,1615.9 360.4,1620.1 352.0,1611.6" fill="none" stroke="#2d6ea8" stroke-width="13.6" stroke-linecap="butt" stroke-linejoin="round"/>
<path d="M326.6,1560.8 C352.0,1571.4 373.1,1586.2 371.0,1603.2 C368.9,1615.9 360.4,1620.1 352.0,1611.6" fill="none" stroke="#5ba3e3" stroke-width="12" stroke-linecap="butt" stroke-linejoin="round"/>
<path d="M280.0,1431.8 L297.0,1450.8M297.0,1448.7 L335.0,1445.5M318.1,1482.6 L337.2,1480.4M297.0,1516.4 L294.8,1565.1" fill="none" stroke="#c77fc7" stroke-width="2.6" stroke-dasharray="2.5,1.5"/>
<path d="M284.3,1436.0 L297.0,1450.8 L299.1,1463.5 L307.5,1478.3 L305.4,1488.9 L313.9,1493.1 L297.0,1514.3 L292.7,1524.9" fill="none" stroke="#f5b020" stroke-width="6" stroke-linejoin="round"/>
<path d="M284.3,1436.0 L297.0,1438.1 L305.4,1455.0 L299.1,1465.6 L288.5,1459.3 L282.1,1442.3Z" fill="none" stroke="#f5b020" stroke-width="5.5" stroke-linejoin="round"/>
<path d="M297.0,1501.6 L313.9,1497.4 L316.0,1518.5 L301.2,1527.0 L288.5,1522.8 L290.6,1510.1Z" fill="none" stroke="#f5b020" stroke-width="5.5" stroke-linejoin="round"/>
<circle cx="298.0" cy="1464.6" r="3.8" fill="#e02020"/>
<circle cx="304.4" cy="1487.8" r="3.4" fill="#3050d0"/>
<circle cx="339.3" cy="1461.4" r="2.8" fill="#e02020"/>
<circle cx="338.2" cy="1481.5" r="3.2" fill="#e02020"/>
<text x="341" y="1452.5" font-size="12.6" text-anchor="start" font-weight="normal" fill="#3a3a3a" >TYR 152</text>
<text x="231.5" y="1463.7" font-size="12.6" text-anchor="start" font-weight="normal" fill="#3a3a3a" >PHE 323</text>
<text x="334.6" y="1519.7" font-size="12.6" text-anchor="start" font-weight="normal" fill="#3a3a3a" >ASP 75</text>
<text x="272" y="1593" font-size="12.6" text-anchor="start" font-weight="normal" fill="#3a3a3a" >PHE 72</text>
<path d="M1001.0,1412.0 C994.7,1433.1 973.5,1431.0 952.3,1431.0 C933.3,1433.1 935.4,1454.3 952.3,1464.9 C962.9,1471.2 973.5,1475.5 977.7,1467.0" fill="none" stroke="#2d6ea8" stroke-width="5" stroke-linecap="round"/>
<path d="M1001.0,1412.0 C994.7,1433.1 973.5,1431.0 952.3,1431.0 C933.3,1433.1 935.4,1454.3 952.3,1464.9 C962.9,1471.2 973.5,1475.5 977.7,1467.0" fill="none" stroke="#5ba3e3" stroke-width="3.4" stroke-linecap="round"/>
<path d="M1079.3,1409.9 C1075.1,1422.6 1079.3,1433.1 1073.0,1456.4" fill="none" stroke="#2d6ea8" stroke-width="5" stroke-linecap="round"/>
<path d="M1079.3,1409.9 C1075.1,1422.6 1079.3,1433.1 1073.0,1456.4" fill="none" stroke="#5ba3e3" stroke-width="3.4" stroke-linecap="round"/>
<path d="M1077.2,1496.6 C1075.1,1517.8 1070.8,1539.0 1041.2,1558.0" fill="none" stroke="#2d6ea8" stroke-width="5" stroke-linecap="round"/>
<path d="M1077.2,1496.6 C1075.1,1517.8 1070.8,1539.0 1041.2,1558.0" fill="none" stroke="#5ba3e3" stroke-width="3.4" stroke-linecap="round"/>
<path d="M1028.5,1496.6 C1037.0,1486.1 1047.6,1479.7 1056.0,1496.6" fill="none" stroke="#2d6ea8" stroke-width="5" stroke-linecap="round"/>
<path d="M1028.5,1496.6 C1037.0,1486.1 1047.6,1479.7 1056.0,1496.6" fill="none" stroke="#5ba3e3" stroke-width="3.4" stroke-linecap="round"/>
<path d="M956.6,1530.5 C957.6,1539.0 956.6,1545.3 956.6,1549.6" fill="none" stroke="#2d6ea8" stroke-width="5" stroke-linecap="round"/>
<path d="M956.6,1530.5 C957.6,1539.0 956.6,1545.3 956.6,1549.6" fill="none" stroke="#5ba3e3" stroke-width="3.4" stroke-linecap="round"/>
<path d="M928.0,1389.8 C943.9,1376.0 933.3,1354.8 925.9,1334.7" fill="none" stroke="#2d6ea8" stroke-width="13.6" stroke-linecap="butt" stroke-linejoin="round"/>
<path d="M928.0,1389.8 C943.9,1376.0 933.3,1354.8 925.9,1334.7" fill="none" stroke="#5ba3e3" stroke-width="12" stroke-linecap="butt" stroke-linejoin="round"/>
<path d="M925.9,1334.7 C937.5,1314.6 973.5,1321.0 998.9,1357.0" fill="none" stroke="#2d6ea8" stroke-width="15.6" stroke-linecap="butt" stroke-linejoin="round"/>
<path d="M925.9,1334.7 C937.5,1314.6 973.5,1321.0 998.9,1357.0" fill="none" stroke="#5ba3e3" stroke-width="14" stroke-linecap="butt" stroke-linejoin="round"/>
<path d="M1001.0,1354.8 C1007.4,1323.1 1020.1,1301.9 1037.0,1299.8 C1053.9,1300.9 1066.6,1318.9 1062.4,1332.6" fill="none" stroke="#2d6ea8" stroke-width="14.6" stroke-linecap="butt" stroke-linejoin="round"/>
<path d="M1001.0,1354.8 C1007.4,1323.1 1020.1,1301.9 1037.0,1299.8 C1053.9,1300.9 1066.6,1318.9 1062.4,1332.6" fill="none" stroke="#5ba3e3" stroke-width="13" stroke-linecap="butt" stroke-linejoin="round"/>
<path d="M931.2,1388.7 C952.3,1403.5 965.0,1405.6 969.3,1380.2 C973.5,1363.3 982.0,1361.2 990.4,1373.9 C998.9,1395.1 1005.2,1403.5 1011.6,1403.5 C1020.1,1386.6 1024.3,1373.9 1025.3,1368.6" fill="none" stroke="#2d6ea8" stroke-width="12.6" stroke-linecap="butt" stroke-linejoin="round"/>
<path d="M931.2,1388.7 C952.3,1403.5 965.0,1405.6 969.3,1380.2 C973.5,1363.3 982.0,1361.2 990.4,1373.9 C998.9,1395.1 1005.2,1403.5 1011.6,1403.5 C1020.1,1386.6 1024.3,1373.9 1025.3,1368.6" fill="none" stroke="#5ba3e3" stroke-width="11" stroke-linecap="butt" stroke-linejoin="round"/>
<path d="M939.6,1488.2 C952.3,1475.5 973.5,1467.0 977.7,1483.9 C977.7,1496.6 958.7,1498.8 939.6,1507.2 C926.9,1522.0 943.9,1536.9 958.7,1539.0" fill="none" stroke="#2d6ea8" stroke-width="13.6" stroke-linecap="butt" stroke-linejoin="round"/>
<path d="M939.6,1488.2 C952.3,1475.5 973.5,1467.0 977.7,1483.9 C977.7,1496.6 958.7,1498.8 939.6,1507.2 C926.9,1522.0 943.9,1536.9 958.7,1539.0" fill="none" stroke="#5ba3e3" stroke-width="12" stroke-linecap="butt" stroke-linejoin="round"/>
<path d="M1058.1,1376.0 C1075.1,1357.0 1092.0,1365.4 1096.2,1384.5 C1100.5,1403.5 1094.1,1409.9 1087.8,1405.6" fill="none" stroke="#2d6ea8" stroke-width="12.6" stroke-linecap="butt" stroke-linejoin="round"/>
<path d="M1058.1,1376.0 C1075.1,1357.0 1092.0,1365.4 1096.2,1384.5 C1100.5,1403.5 1094.1,1409.9 1087.8,1405.6" fill="none" stroke="#5ba3e3" stroke-width="11" stroke-linecap="butt" stroke-linejoin="round"/>
<path d="M1096.2,1403.5 C1113.2,1386.6 1128.0,1382.4 1144.9,1388.7" fill="none" stroke="#2d6ea8" stroke-width="11.6" stroke-linecap="butt" stroke-linejoin="round"/>
<path d="M1096.2,1403.5 C1113.2,1386.6 1128.0,1382.4 1144.9,1388.7" fill="none" stroke="#5ba3e3" stroke-width="10" stroke-linecap="butt" stroke-linejoin="round"/>
<path d="M1064.5,1464.9 C1079.3,1460.7 1081.4,1486.1 1075.1,1496.6" fill="none" stroke="#2d6ea8" stroke-width="12.6" stroke-linecap="butt" stroke-linejoin="round"/>
<path d="M1064.5,1464.9 C1079.3,1460.7 1081.4,1486.1 1075.1,1496.6" fill="none" stroke="#5ba3e3" stroke-width="11" stroke-linecap="butt" stroke-linejoin="round"/>
<path d="M1081.4,1490.3 C1096.2,1473.4 1113.2,1469.1 1121.6,1481.8" fill="none" stroke="#2d6ea8" stroke-width="13.6" stroke-linecap="butt" stroke-linejoin="round"/>
<path d="M1081.4,1490.3 C1096.2,1473.4 1113.2,1469.1 1121.6,1481.8" fill="none" stroke="#5ba3e3" stroke-width="12" stroke-linecap="butt" stroke-linejoin="round"/>
<path d="M1028.5,1553.8 C1053.9,1564.4 1073.0,1585.5 1066.6,1606.7 C1058.1,1619.4 1041.2,1621.5 1037.0,1612.0" fill="none" stroke="#2d6ea8" stroke-width="13.6" stroke-linecap="butt" stroke-linejoin="round"/>
<path d="M1028.5,1553.8 C1053.9,1564.4 1073.0,1585.5 1066.6,1606.7 C1058.1,1619.4 1041.2,1621.5 1037.0,1612.0" fill="none" stroke="#5ba3e3" stroke-width="12" stroke-linecap="butt" stroke-linejoin="round"/>
<path d="M1034.9,1436.3 L1077.2,1434.2" stroke="#d890d0" stroke-width="2.5" stroke-dasharray="2.5,1.5"/>
<path d="M1028.5,1471.2 L1056.0,1477.6" stroke="#9030b0" stroke-width="2.5" stroke-dasharray="2.5,1.5"/>
<ellipse cx="1033.8" cy="1434.2" rx="13" ry="9" fill="none" stroke="#f5a623" stroke-width="7"/>
<path d="M1024.3,1450.1 L1025.3,1471.2 L1025.3,1492.4" stroke="#f5a623" stroke-width="9" fill="none" stroke-linecap="round"/>
<path d="M1020.3,1470.1 L1020.3,1488.4" stroke="#f8d030" stroke-width="4" stroke-linecap="round"/>
<circle cx="1040.2" cy="1418.3" r="4.5" fill="#40d040"/>
<circle cx="1027.5" cy="1467.0" r="3" fill="#3050d0"/>
<circle cx="1073.0" cy="1456.4" r="3" fill="#e02020"/>
<circle cx="1056.0" cy="1496.6" r="3" fill="#e02020"/>
<circle cx="1056.0" cy="1477.6" r="3" fill="#e02020"/>
<text x="965.8" y="1453.7" font-size="12.9" text-anchor="start" font-weight="normal" fill="#1a1a1a" >PHE 323</text>
<text x="1087.4" y="1436.7" font-size="12.9" text-anchor="start" font-weight="normal" fill="#1a1a1a" >TYR 152</text>
<text x="1023.8" y="1516.3" font-size="12.9" text-anchor="start" font-weight="normal" fill="#1a1a1a" >ASP 75</text>
</svg></body></html>
